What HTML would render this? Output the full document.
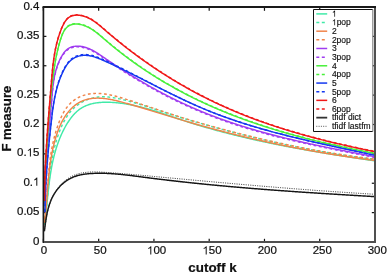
<!DOCTYPE html>
<html><head><meta charset="utf-8"><style>
html,body{margin:0;padding:0;background:#fff;width:388px;height:275px;overflow:hidden}
svg{display:block;will-change:transform}
.t{font-family:"Liberation Sans",sans-serif;font-size:11.5px;fill:#111;stroke:#111;stroke-width:0.22px}
.l{font-family:"Liberation Sans",sans-serif;font-size:8.5px;fill:#111;stroke:#111;stroke-width:0.15px}
.b{font-family:"Liberation Sans",sans-serif;font-size:13.4px;font-weight:bold;fill:#111;stroke:#111;stroke-width:0.2px}
</style></head><body>
<svg width="388" height="275" viewBox="0 0 388 275">
<rect width="388" height="275" fill="#fff"/>
<g stroke="#111" stroke-width="1.2">
<line x1="43.40" y1="242.0" x2="43.40" y2="238.8"/>
<line x1="43.40" y1="7.0" x2="43.40" y2="10.8"/>
<line x1="98.67" y1="242.0" x2="98.67" y2="238.8"/>
<line x1="98.67" y1="7.0" x2="98.67" y2="10.8"/>
<line x1="153.93" y1="242.0" x2="153.93" y2="238.8"/>
<line x1="153.93" y1="7.0" x2="153.93" y2="10.8"/>
<line x1="209.20" y1="242.0" x2="209.20" y2="238.8"/>
<line x1="209.20" y1="7.0" x2="209.20" y2="10.8"/>
<line x1="264.47" y1="242.0" x2="264.47" y2="238.8"/>
<line x1="264.47" y1="7.0" x2="264.47" y2="10.8"/>
<line x1="319.73" y1="242.0" x2="319.73" y2="238.8"/>
<line x1="319.73" y1="7.0" x2="319.73" y2="10.8"/>
<line x1="375.00" y1="242.0" x2="375.00" y2="238.8"/>
<line x1="375.00" y1="7.0" x2="375.00" y2="10.8"/>
<line x1="43.4" y1="242.00" x2="46.4" y2="242.00"/>
<line x1="375.0" y1="242.00" x2="371.8" y2="242.00"/>
<line x1="43.4" y1="212.62" x2="46.4" y2="212.62"/>
<line x1="375.0" y1="212.62" x2="371.8" y2="212.62"/>
<line x1="43.4" y1="183.25" x2="46.4" y2="183.25"/>
<line x1="375.0" y1="183.25" x2="371.8" y2="183.25"/>
<line x1="43.4" y1="153.88" x2="46.4" y2="153.88"/>
<line x1="375.0" y1="153.88" x2="371.8" y2="153.88"/>
<line x1="43.4" y1="124.50" x2="46.4" y2="124.50"/>
<line x1="375.0" y1="124.50" x2="371.8" y2="124.50"/>
<line x1="43.4" y1="95.12" x2="46.4" y2="95.12"/>
<line x1="375.0" y1="95.12" x2="371.8" y2="95.12"/>
<line x1="43.4" y1="65.75" x2="46.4" y2="65.75"/>
<line x1="375.0" y1="65.75" x2="371.8" y2="65.75"/>
<line x1="43.4" y1="36.37" x2="46.4" y2="36.37"/>
<line x1="375.0" y1="36.37" x2="371.8" y2="36.37"/>
<line x1="43.4" y1="7.00" x2="46.4" y2="7.00"/>
<line x1="375.0" y1="7.00" x2="371.8" y2="7.00"/>
</g>
<g clip-path="url(#c)">
<path d="M44.55,224.57 L44.67,223.71 L44.78,222.84 L44.90,221.98 L45.01,221.12 L45.12,220.26 L45.22,219.40 L45.33,218.54 L45.43,217.69 L45.54,216.83 L45.64,215.97 L45.73,215.11 L45.83,214.25 L45.93,213.40 L46.02,212.54 L46.12,211.68 L46.21,210.83 L46.30,209.97 L46.39,209.12 L46.48,208.26 L46.57,207.41 L46.66,206.55 L46.75,205.70 L46.84,204.84 L46.92,203.99 L47.01,203.14 L47.10,202.29 L47.18,201.44 L47.27,200.58 L47.36,199.73 L47.44,198.88 L47.53,198.03 L47.62,197.18 L47.71,196.33 L47.79,195.48 L47.88,194.64 L47.97,193.79 L48.06,192.94 L48.15,192.09 L48.25,191.24 L48.34,190.40 L48.43,189.55 L48.53,188.71 L48.62,187.86 L48.72,187.02 L48.82,186.17 L48.92,185.33 L49.02,184.48 L49.13,183.64 L49.23,182.80 L49.34,181.96 L49.45,181.11 L49.56,180.27 L49.67,179.43 L49.79,178.59 L49.91,177.75 L50.03,176.91 L50.15,176.07 L50.28,175.23 L50.40,174.40 L50.53,173.56 L50.67,172.72 L50.80,171.88 L50.94,171.05 L51.08,170.21 L51.23,169.38 L51.38,168.54 L51.53,167.71 L51.68,166.87 L51.84,166.04 L52.00,165.20 L52.17,164.37 L52.34,163.54 L52.51,162.71 L52.69,161.88 L52.87,161.04 L53.06,160.21 L53.25,159.38 L53.44,158.56 L53.64,157.73 L53.84,156.90 L54.05,156.07 L54.26,155.24 L54.47,154.41 L54.69,153.59 L54.92,152.76 L55.15,151.94 L55.38,151.11 L55.62,150.29 L55.87,149.46 L56.12,148.64 L56.38,147.82 L56.64,146.99 L56.90,146.17 L57.18,145.35 L57.46,144.53 L57.74,143.71 L58.03,142.90 L58.32,142.08 L58.63,141.27 L58.93,140.46 L59.25,139.65 L59.57,138.84 L59.89,138.03 L60.22,137.23 L60.56,136.42 L60.91,135.62 L61.26,134.82 L61.62,134.03 L61.99,133.24 L62.36,132.45 L62.74,131.66 L63.12,130.88 L63.52,130.09 L63.92,129.32 L64.32,128.54 L64.74,127.77 L65.16,127.00 L65.59,126.24 L66.03,125.48 L66.47,124.72 L66.93,123.97 L67.39,123.22 L67.85,122.48 L68.33,121.75 L68.81,121.02 L69.31,120.29 L69.81,119.58 L70.32,118.87 L70.84,118.17 L71.36,117.48 L71.90,116.81 L72.44,116.14 L73.00,115.48 L73.56,114.84 L74.13,114.21 L74.72,113.59 L75.31,112.99 L75.91,112.40 L76.52,111.82 L77.14,111.26 L77.77,110.72 L78.41,110.20 L79.06,109.69 L79.72,109.20 L80.39,108.73 L81.08,108.28 L81.77,107.85 L82.47,107.44 L83.18,107.04 L83.90,106.67 L84.63,106.31 L85.37,105.97 L86.12,105.65 L86.88,105.34 L87.64,105.06 L88.42,104.78 L89.20,104.53 L89.98,104.29 L90.78,104.06 L91.58,103.85 L92.38,103.66 L93.19,103.48 L94.01,103.31 L94.83,103.16 L95.66,103.02 L96.49,102.89 L97.33,102.77 L98.17,102.67 L99.01,102.58 L99.86,102.50 L100.71,102.43 L101.57,102.37 L102.42,102.33 L103.28,102.29 L104.14,102.26 L105.00,102.24 L105.87,102.24 L106.73,102.23 L107.59,102.24 L108.46,102.26 L109.32,102.28 L110.19,102.31 L111.05,102.35 L111.92,102.40 L112.78,102.45 L113.64,102.50 L114.50,102.57 L115.36,102.64 L116.22,102.71 L117.07,102.79 L117.93,102.88 L118.78,102.97 L119.64,103.06 L120.49,103.17 L121.34,103.27 L122.19,103.39 L123.04,103.50 L123.88,103.63 L124.73,103.75 L125.57,103.89 L126.42,104.02 L127.26,104.17 L128.10,104.31 L128.95,104.46 L129.79,104.62 L130.63,104.78 L131.46,104.94 L132.30,105.11 L133.14,105.29 L133.97,105.46 L134.81,105.64 L135.64,105.83 L136.48,106.02 L137.31,106.21 L138.14,106.41 L138.97,106.61 L139.80,106.81 L140.63,107.01 L141.46,107.22 L142.29,107.44 L143.12,107.65 L143.95,107.87 L144.77,108.09 L145.60,108.32 L146.42,108.55 L147.25,108.78 L148.07,109.01 L148.90,109.25 L149.72,109.48 L150.54,109.72 L151.36,109.97 L152.19,110.21 L153.01,110.46 L153.83,110.71 L154.65,110.96 L155.47,111.21 L156.29,111.47 L157.11,111.73 L157.93,111.98 L158.74,112.24 L159.56,112.51 L160.38,112.77 L161.20,113.03 L162.01,113.30 L162.83,113.56 L163.65,113.83 L164.47,114.10 L165.28,114.37 L166.10,114.64 L166.91,114.91 L167.73,115.18 L168.55,115.46 L169.36,115.73 L170.18,116.00 L170.99,116.28 L171.81,116.55 L172.63,116.82 L173.44,117.10 L174.26,117.37 L175.07,117.65 L175.89,117.92 L176.70,118.19 L177.52,118.47 L178.34,118.74 L179.15,119.01 L179.97,119.28 L180.78,119.56 L181.60,119.83 L182.42,120.10 L183.23,120.36 L184.05,120.63 L184.87,120.90 L185.69,121.16 L186.50,121.43 L187.32,121.69 L188.14,121.95 L188.96,122.21 L189.78,122.47 L190.60,122.73 L191.42,122.99 L192.24,123.25 L193.06,123.50 L193.88,123.76 L194.70,124.01 L195.52,124.26 L196.34,124.51 L197.16,124.76 L197.98,125.01 L198.80,125.26 L199.62,125.51 L200.44,125.75 L201.27,126.00 L202.09,126.24 L202.91,126.49 L203.73,126.73 L204.56,126.97 L205.38,127.21 L206.20,127.45 L207.03,127.68 L207.85,127.92 L208.67,128.16 L209.50,128.39 L210.32,128.62 L211.15,128.86 L211.97,129.09 L212.80,129.32 L213.62,129.55 L214.45,129.78 L215.27,130.01 L216.10,130.23 L216.92,130.46 L217.75,130.68 L218.58,130.91 L219.40,131.13 L220.23,131.35 L221.06,131.57 L221.89,131.79 L222.71,132.01 L223.54,132.23 L224.37,132.45 L225.20,132.66 L226.03,132.88 L226.85,133.09 L227.68,133.31 L228.51,133.52 L229.34,133.73 L230.17,133.94 L231.00,134.15 L231.83,134.36 L232.66,134.57 L233.49,134.78 L234.32,134.98 L235.15,135.19 L235.98,135.40 L236.81,135.60 L237.64,135.80 L238.47,136.00 L239.30,136.21 L240.14,136.41 L240.97,136.61 L241.80,136.81 L242.63,137.00 L243.46,137.20 L244.30,137.40 L245.13,137.59 L245.96,137.79 L246.79,137.98 L247.63,138.18 L248.46,138.37 L249.29,138.56 L250.13,138.75 L250.96,138.94 L251.79,139.13 L252.63,139.32 L253.46,139.51 L254.30,139.69 L255.13,139.88 L255.97,140.07 L256.80,140.25 L257.64,140.44 L258.47,140.62 L259.31,140.80 L260.14,140.98 L260.98,141.16 L261.81,141.34 L262.65,141.52 L263.49,141.70 L264.32,141.88 L265.16,142.06 L265.99,142.24 L266.83,142.41 L267.67,142.59 L268.51,142.76 L269.34,142.94 L270.18,143.11 L271.02,143.28 L271.85,143.46 L272.69,143.63 L273.53,143.80 L274.37,143.97 L275.21,144.14 L276.04,144.31 L276.88,144.48 L277.72,144.64 L278.56,144.81 L279.40,144.98 L280.24,145.14 L281.08,145.31 L281.92,145.47 L282.76,145.64 L283.59,145.80 L284.43,145.96 L285.27,146.12 L286.11,146.28 L286.95,146.45 L287.79,146.61 L288.63,146.77 L289.47,146.93 L290.31,147.08 L291.15,147.24 L292.00,147.40 L292.84,147.56 L293.68,147.71 L294.52,147.87 L295.36,148.02 L296.20,148.18 L297.04,148.33 L297.88,148.49 L298.72,148.64 L299.57,148.79 L300.41,148.94 L301.25,149.10 L302.09,149.25 L302.93,149.40 L303.78,149.55 L304.62,149.70 L305.46,149.85 L306.30,150.00 L307.15,150.14 L307.99,150.29 L308.83,150.44 L309.67,150.59 L310.52,150.73 L311.36,150.88 L312.20,151.02 L313.05,151.17 L313.89,151.31 L314.73,151.46 L315.58,151.60 L316.42,151.74 L317.26,151.89 L318.11,152.03 L318.95,152.17 L319.80,152.31 L320.64,152.45 L321.48,152.59 L322.33,152.73 L323.17,152.87 L324.02,153.01 L324.86,153.15 L325.71,153.29 L326.55,153.43 L327.39,153.57 L328.24,153.70 L329.08,153.84 L329.93,153.98 L330.77,154.12 L331.62,154.25 L332.46,154.39 L333.31,154.52 L334.15,154.66 L335.00,154.79 L335.85,154.93 L336.69,155.06 L337.54,155.20 L338.38,155.33 L339.23,155.46 L340.07,155.60 L340.92,155.73 L341.76,155.86 L342.61,155.99 L343.46,156.12 L344.30,156.26 L345.15,156.39 L345.99,156.52 L346.84,156.65 L347.69,156.78 L348.53,156.91 L349.38,157.04 L350.23,157.17 L351.07,157.30 L351.92,157.43 L352.76,157.56 L353.61,157.68 L354.46,157.81 L355.30,157.94 L356.15,158.07 L357.00,158.20 L357.84,158.32 L358.69,158.45 L359.54,158.58 L360.39,158.71 L361.23,158.83 L362.08,158.96 L362.93,159.09 L363.77,159.21 L364.62,159.34 L365.47,159.46 L366.31,159.59 L367.16,159.72 L368.01,159.84 L368.86,159.97 L369.70,160.09 L370.55,160.22 L371.40,160.34 L372.24,160.47 L373.09,160.59 L373.94,160.71 L374.79,160.84" fill="none" stroke="#40eaa8" stroke-width="1.45" stroke-linejoin="round"/>
<path d="M44.28,223.92 L44.42,223.07 L44.56,222.22 L44.69,221.37 L44.82,220.52 L44.95,219.67 L45.07,218.82 L45.19,217.97 L45.31,217.11 L45.42,216.26 L45.54,215.40 L45.65,214.55 L45.76,213.69 L45.86,212.84 L45.97,211.98 L46.07,211.12 L46.17,210.26 L46.27,209.40 L46.37,208.54 L46.46,207.68 L46.55,206.82 L46.65,205.96 L46.74,205.10 L46.83,204.24 L46.92,203.38 L47.00,202.52 L47.09,201.65 L47.18,200.79 L47.26,199.93 L47.35,199.07 L47.43,198.20 L47.51,197.34 L47.59,196.47 L47.68,195.61 L47.76,194.74 L47.84,193.88 L47.92,193.02 L48.00,192.15 L48.09,191.29 L48.17,190.42 L48.25,189.55 L48.33,188.69 L48.42,187.82 L48.50,186.96 L48.58,186.09 L48.67,185.23 L48.76,184.36 L48.84,183.50 L48.93,182.63 L49.02,181.77 L49.11,180.90 L49.20,180.04 L49.29,179.17 L49.39,178.31 L49.48,177.44 L49.58,176.58 L49.68,175.71 L49.78,174.85 L49.88,173.99 L49.99,173.12 L50.10,172.26 L50.20,171.40 L50.32,170.54 L50.43,169.67 L50.55,168.81 L50.66,167.95 L50.79,167.09 L50.91,166.23 L51.04,165.37 L51.17,164.51 L51.30,163.65 L51.43,162.79 L51.57,161.93 L51.72,161.08 L51.86,160.22 L52.01,159.36 L52.16,158.51 L52.32,157.65 L52.48,156.80 L52.64,155.94 L52.81,155.09 L52.98,154.24 L53.16,153.38 L53.34,152.53 L53.52,151.68 L53.71,150.83 L53.90,149.98 L54.10,149.13 L54.30,148.29 L54.51,147.44 L54.72,146.59 L54.94,145.75 L55.16,144.90 L55.39,144.06 L55.62,143.22 L55.85,142.38 L56.10,141.54 L56.34,140.70 L56.60,139.86 L56.86,139.02 L57.12,138.18 L57.39,137.35 L57.67,136.52 L57.95,135.68 L58.24,134.85 L58.53,134.02 L58.83,133.19 L59.14,132.36 L59.45,131.53 L59.77,130.71 L60.10,129.88 L60.43,129.06 L60.77,128.24 L61.12,127.42 L61.48,126.61 L61.84,125.80 L62.21,125.00 L62.59,124.20 L62.98,123.40 L63.37,122.61 L63.78,121.83 L64.19,121.05 L64.61,120.28 L65.04,119.52 L65.49,118.76 L65.94,118.01 L66.40,117.27 L66.87,116.54 L67.35,115.82 L67.84,115.11 L68.34,114.41 L68.85,113.72 L69.37,113.04 L69.91,112.37 L70.45,111.71 L71.01,111.07 L71.58,110.43 L72.16,109.81 L72.75,109.21 L73.35,108.61 L73.96,108.03 L74.59,107.47 L75.22,106.91 L75.86,106.37 L76.52,105.85 L77.18,105.33 L77.85,104.83 L78.54,104.35 L79.23,103.88 L79.93,103.42 L80.64,102.97 L81.35,102.55 L82.08,102.13 L82.81,101.73 L83.55,101.35 L84.30,100.98 L85.05,100.62 L85.82,100.28 L86.59,99.96 L87.36,99.65 L88.14,99.35 L88.93,99.07 L89.73,98.81 L90.53,98.56 L91.33,98.33 L92.14,98.12 L92.96,97.92 L93.78,97.74 L94.60,97.57 L95.43,97.42 L96.27,97.29 L97.10,97.17 L97.95,97.07 L98.79,96.99 L99.64,96.92 L100.49,96.87 L101.34,96.84 L102.20,96.81 L103.06,96.81 L103.92,96.82 L104.79,96.84 L105.65,96.88 L106.52,96.92 L107.39,96.98 L108.26,97.06 L109.14,97.14 L110.01,97.24 L110.89,97.34 L111.76,97.46 L112.64,97.59 L113.52,97.72 L114.40,97.87 L115.28,98.02 L116.15,98.18 L117.03,98.35 L117.91,98.52 L118.79,98.71 L119.67,98.90 L120.55,99.09 L121.42,99.29 L122.30,99.50 L123.17,99.71 L124.05,99.92 L124.92,100.14 L125.79,100.36 L126.65,100.59 L127.52,100.82 L128.38,101.04 L129.24,101.28 L130.10,101.51 L130.96,101.75 L131.82,101.98 L132.67,102.22 L133.52,102.46 L134.37,102.71 L135.22,102.95 L136.07,103.20 L136.91,103.45 L137.76,103.70 L138.60,103.95 L139.44,104.20 L140.28,104.45 L141.12,104.71 L141.95,104.97 L142.79,105.23 L143.62,105.48 L144.46,105.74 L145.29,106.01 L146.12,106.27 L146.95,106.53 L147.78,106.80 L148.60,107.06 L149.43,107.33 L150.26,107.59 L151.08,107.86 L151.91,108.13 L152.73,108.40 L153.55,108.66 L154.38,108.93 L155.20,109.20 L156.02,109.47 L156.84,109.74 L157.66,110.01 L158.48,110.28 L159.30,110.55 L160.12,110.82 L160.94,111.09 L161.76,111.36 L162.58,111.63 L163.40,111.90 L164.22,112.17 L165.04,112.44 L165.86,112.71 L166.68,112.98 L167.50,113.25 L168.32,113.52 L169.14,113.78 L169.97,114.05 L170.79,114.31 L171.61,114.58 L172.43,114.84 L173.25,115.10 L174.08,115.37 L174.90,115.63 L175.73,115.89 L176.55,116.15 L177.37,116.41 L178.20,116.67 L179.03,116.92 L179.85,117.18 L180.68,117.44 L181.50,117.69 L182.33,117.95 L183.16,118.20 L183.99,118.46 L184.81,118.71 L185.64,118.96 L186.47,119.21 L187.30,119.46 L188.13,119.71 L188.96,119.96 L189.79,120.21 L190.62,120.46 L191.45,120.71 L192.28,120.95 L193.11,121.20 L193.95,121.45 L194.78,121.69 L195.61,121.93 L196.44,122.18 L197.28,122.42 L198.11,122.66 L198.94,122.90 L199.78,123.14 L200.61,123.38 L201.44,123.62 L202.28,123.86 L203.11,124.10 L203.95,124.34 L204.78,124.58 L205.62,124.81 L206.45,125.05 L207.29,125.28 L208.12,125.52 L208.96,125.75 L209.80,125.99 L210.63,126.22 L211.47,126.45 L212.31,126.68 L213.14,126.91 L213.98,127.15 L214.82,127.38 L215.66,127.60 L216.49,127.83 L217.33,128.06 L218.17,128.29 L219.01,128.52 L219.85,128.74 L220.69,128.97 L221.53,129.20 L222.36,129.42 L223.20,129.65 L224.04,129.87 L224.88,130.09 L225.72,130.32 L226.56,130.54 L227.40,130.76 L228.24,130.98 L229.08,131.20 L229.92,131.42 L230.76,131.64 L231.60,131.86 L232.44,132.08 L233.28,132.30 L234.12,132.51 L234.97,132.73 L235.81,132.95 L236.65,133.16 L237.49,133.38 L238.33,133.59 L239.17,133.80 L240.02,134.02 L240.86,134.23 L241.70,134.44 L242.54,134.65 L243.38,134.86 L244.23,135.07 L245.07,135.28 L245.91,135.49 L246.76,135.70 L247.60,135.91 L248.44,136.12 L249.29,136.32 L250.13,136.53 L250.97,136.73 L251.82,136.94 L252.66,137.14 L253.51,137.35 L254.35,137.55 L255.20,137.75 L256.04,137.95 L256.88,138.16 L257.73,138.36 L258.58,138.56 L259.42,138.76 L260.27,138.95 L261.11,139.15 L261.96,139.35 L262.80,139.55 L263.65,139.74 L264.50,139.94 L265.34,140.13 L266.19,140.33 L267.03,140.52 L267.88,140.72 L268.73,140.91 L269.57,141.10 L270.42,141.29 L271.27,141.48 L272.12,141.67 L272.96,141.86 L273.81,142.05 L274.66,142.24 L275.51,142.42 L276.36,142.61 L277.20,142.80 L278.05,142.98 L278.90,143.17 L279.75,143.35 L280.60,143.53 L281.45,143.72 L282.30,143.90 L283.15,144.08 L284.00,144.26 L284.85,144.44 L285.70,144.62 L286.54,144.80 L287.39,144.98 L288.25,145.16 L289.10,145.33 L289.95,145.51 L290.80,145.68 L291.65,145.86 L292.50,146.03 L293.35,146.21 L294.20,146.38 L295.05,146.55 L295.90,146.72 L296.75,146.89 L297.61,147.06 L298.46,147.23 L299.31,147.40 L300.16,147.57 L301.01,147.74 L301.87,147.90 L302.72,148.07 L303.57,148.23 L304.42,148.40 L305.28,148.56 L306.13,148.72 L306.98,148.89 L307.84,149.05 L308.69,149.21 L309.54,149.37 L310.40,149.53 L311.25,149.69 L312.11,149.85 L312.96,150.00 L313.81,150.16 L314.67,150.32 L315.52,150.47 L316.38,150.62 L317.23,150.78 L318.09,150.93 L318.94,151.08 L319.80,151.24 L320.65,151.39 L321.51,151.54 L322.37,151.69 L323.22,151.83 L324.08,151.98 L324.93,152.13 L325.79,152.28 L326.65,152.42 L327.50,152.57 L328.36,152.71 L329.22,152.85 L330.07,153.00 L330.93,153.14 L331.79,153.28 L332.64,153.42 L333.50,153.56 L334.36,153.70 L335.22,153.84 L336.08,153.97 L336.93,154.11 L337.79,154.25 L338.65,154.38 L339.51,154.52 L340.37,154.65 L341.23,154.78 L342.08,154.91 L342.94,155.05 L343.80,155.18 L344.66,155.31 L345.52,155.44 L346.38,155.56 L347.24,155.69 L348.10,155.82 L348.96,155.94 L349.82,156.07 L350.68,156.19 L351.54,156.32 L352.40,156.44 L353.26,156.56 L354.12,156.68 L354.98,156.80 L355.85,156.92 L356.71,157.04 L357.57,157.16 L358.43,157.28 L359.29,157.39 L360.15,157.51 L361.01,157.62 L361.88,157.74 L362.74,157.85 L363.60,157.96 L364.46,158.07 L365.33,158.18 L366.19,158.29 L367.05,158.40 L367.91,158.51 L368.78,158.62 L369.64,158.73 L370.50,158.83 L371.37,158.94 L372.23,159.04 L373.09,159.14 L373.96,159.25 L374.82,159.35" fill="none" stroke="#40eaa8" stroke-width="1.45" stroke-dasharray="2.8 2.6" stroke-dashoffset="-1.442" stroke-linejoin="round"/>
<path d="M44.47,223.05 L44.58,222.17 L44.68,221.30 L44.78,220.43 L44.88,219.56 L44.98,218.69 L45.08,217.82 L45.17,216.95 L45.26,216.08 L45.35,215.21 L45.44,214.34 L45.52,213.47 L45.61,212.60 L45.69,211.73 L45.77,210.86 L45.85,210.00 L45.93,209.13 L46.01,208.26 L46.08,207.39 L46.16,206.52 L46.23,205.66 L46.31,204.79 L46.38,203.92 L46.45,203.05 L46.52,202.19 L46.59,201.32 L46.66,200.46 L46.73,199.59 L46.80,198.72 L46.87,197.86 L46.93,196.99 L47.00,196.13 L47.07,195.26 L47.14,194.40 L47.21,193.54 L47.28,192.67 L47.34,191.81 L47.41,190.94 L47.48,190.08 L47.55,189.22 L47.62,188.35 L47.69,187.49 L47.77,186.63 L47.84,185.77 L47.91,184.91 L47.99,184.04 L48.06,183.18 L48.14,182.32 L48.22,181.46 L48.30,180.60 L48.38,179.74 L48.46,178.88 L48.54,178.02 L48.63,177.16 L48.71,176.30 L48.80,175.44 L48.89,174.58 L48.98,173.73 L49.08,172.87 L49.17,172.01 L49.27,171.15 L49.37,170.29 L49.48,169.44 L49.58,168.58 L49.69,167.72 L49.80,166.87 L49.91,166.01 L50.03,165.15 L50.15,164.30 L50.27,163.44 L50.39,162.59 L50.52,161.73 L50.65,160.88 L50.78,160.03 L50.92,159.17 L51.06,158.32 L51.20,157.46 L51.35,156.61 L51.50,155.76 L51.66,154.91 L51.81,154.05 L51.98,153.20 L52.14,152.35 L52.31,151.50 L52.48,150.65 L52.66,149.80 L52.84,148.95 L53.03,148.09 L53.22,147.24 L53.42,146.40 L53.61,145.55 L53.82,144.70 L54.03,143.85 L54.24,143.00 L54.46,142.15 L54.68,141.30 L54.91,140.46 L55.14,139.61 L55.38,138.76 L55.63,137.92 L55.88,137.08 L56.14,136.23 L56.40,135.39 L56.67,134.56 L56.94,133.72 L57.23,132.89 L57.52,132.06 L57.81,131.23 L58.12,130.41 L58.43,129.59 L58.75,128.77 L59.08,127.96 L59.41,127.15 L59.76,126.34 L60.11,125.54 L60.47,124.75 L60.84,123.96 L61.22,123.18 L61.61,122.40 L62.01,121.62 L62.41,120.85 L62.83,120.09 L63.26,119.34 L63.70,118.59 L64.15,117.85 L64.61,117.11 L65.08,116.38 L65.56,115.66 L66.05,114.95 L66.56,114.25 L67.07,113.55 L67.60,112.86 L68.14,112.18 L68.69,111.51 L69.25,110.85 L69.83,110.20 L70.42,109.56 L71.02,108.93 L71.63,108.31 L72.26,107.71 L72.89,107.11 L73.54,106.54 L74.20,105.98 L74.87,105.43 L75.55,104.91 L76.25,104.40 L76.95,103.91 L77.67,103.44 L78.39,102.99 L79.13,102.56 L79.87,102.16 L80.63,101.77 L81.39,101.41 L82.16,101.06 L82.93,100.74 L83.71,100.44 L84.49,100.16 L85.28,99.90 L86.07,99.66 L86.87,99.43 L87.68,99.23 L88.48,99.05 L89.29,98.88 L90.11,98.73 L90.93,98.60 L91.75,98.49 L92.58,98.39 L93.41,98.31 L94.25,98.24 L95.08,98.19 L95.92,98.16 L96.77,98.14 L97.62,98.13 L98.46,98.14 L99.32,98.16 L100.17,98.19 L101.03,98.24 L101.89,98.30 L102.75,98.37 L103.61,98.45 L104.48,98.54 L105.35,98.65 L106.22,98.76 L107.09,98.88 L107.96,99.02 L108.83,99.16 L109.71,99.31 L110.58,99.47 L111.46,99.64 L112.33,99.81 L113.21,100.00 L114.09,100.19 L114.96,100.38 L115.84,100.58 L116.72,100.79 L117.60,101.00 L118.47,101.22 L119.35,101.44 L120.23,101.67 L121.10,101.90 L121.98,102.13 L122.85,102.36 L123.72,102.60 L124.60,102.84 L125.47,103.08 L126.33,103.33 L127.20,103.57 L128.07,103.81 L128.93,104.06 L129.79,104.30 L130.65,104.55 L131.51,104.80 L132.37,105.04 L133.23,105.29 L134.08,105.54 L134.93,105.79 L135.78,106.04 L136.63,106.29 L137.48,106.54 L138.33,106.79 L139.18,107.04 L140.02,107.29 L140.86,107.54 L141.71,107.79 L142.55,108.04 L143.39,108.29 L144.23,108.54 L145.06,108.80 L145.90,109.05 L146.73,109.30 L147.57,109.56 L148.40,109.81 L149.24,110.06 L150.07,110.32 L150.90,110.57 L151.73,110.82 L152.56,111.08 L153.39,111.33 L154.21,111.58 L155.04,111.84 L155.87,112.09 L156.69,112.35 L157.52,112.60 L158.34,112.85 L159.17,113.11 L159.99,113.36 L160.81,113.62 L161.63,113.87 L162.46,114.12 L163.28,114.38 L164.10,114.63 L164.92,114.88 L165.74,115.14 L166.56,115.39 L167.38,115.64 L168.20,115.89 L169.02,116.14 L169.84,116.40 L170.66,116.65 L171.48,116.90 L172.30,117.15 L173.12,117.40 L173.94,117.65 L174.75,117.90 L175.57,118.15 L176.39,118.40 L177.21,118.65 L178.03,118.90 L178.85,119.14 L179.67,119.39 L180.49,119.64 L181.31,119.89 L182.13,120.13 L182.96,120.38 L183.78,120.62 L184.60,120.87 L185.42,121.11 L186.24,121.35 L187.07,121.59 L187.89,121.84 L188.72,122.08 L189.54,122.32 L190.37,122.56 L191.19,122.80 L192.02,123.04 L192.84,123.28 L193.67,123.51 L194.50,123.75 L195.33,123.99 L196.15,124.22 L196.98,124.46 L197.81,124.70 L198.64,124.93 L199.47,125.16 L200.30,125.40 L201.13,125.63 L201.96,125.86 L202.79,126.09 L203.62,126.32 L204.46,126.55 L205.29,126.78 L206.12,127.01 L206.96,127.24 L207.79,127.47 L208.62,127.70 L209.46,127.92 L210.29,128.15 L211.13,128.38 L211.96,128.60 L212.80,128.83 L213.63,129.05 L214.47,129.27 L215.31,129.50 L216.14,129.72 L216.98,129.94 L217.82,130.16 L218.66,130.38 L219.50,130.60 L220.33,130.82 L221.17,131.04 L222.01,131.26 L222.85,131.47 L223.69,131.69 L224.53,131.91 L225.37,132.12 L226.21,132.34 L227.06,132.55 L227.90,132.77 L228.74,132.98 L229.58,133.19 L230.42,133.40 L231.27,133.61 L232.11,133.83 L232.95,134.04 L233.80,134.25 L234.64,134.45 L235.48,134.66 L236.33,134.87 L237.17,135.08 L238.02,135.29 L238.86,135.49 L239.71,135.70 L240.56,135.90 L241.40,136.11 L242.25,136.31 L243.09,136.51 L243.94,136.72 L244.79,136.92 L245.64,137.12 L246.48,137.32 L247.33,137.52 L248.18,137.72 L249.03,137.92 L249.88,138.12 L250.72,138.31 L251.57,138.51 L252.42,138.71 L253.27,138.90 L254.12,139.10 L254.97,139.29 L255.82,139.49 L256.67,139.68 L257.52,139.87 L258.37,140.07 L259.22,140.26 L260.07,140.45 L260.92,140.64 L261.78,140.83 L262.63,141.02 L263.48,141.21 L264.33,141.39 L265.18,141.58 L266.04,141.77 L266.89,141.96 L267.74,142.14 L268.59,142.33 L269.45,142.51 L270.30,142.69 L271.15,142.88 L272.01,143.06 L272.86,143.24 L273.71,143.42 L274.57,143.60 L275.42,143.78 L276.28,143.96 L277.13,144.14 L277.99,144.32 L278.84,144.50 L279.69,144.67 L280.55,144.85 L281.40,145.03 L282.26,145.20 L283.12,145.38 L283.97,145.55 L284.83,145.72 L285.68,145.90 L286.54,146.07 L287.39,146.24 L288.25,146.41 L289.10,146.58 L289.96,146.75 L290.82,146.92 L291.67,147.09 L292.53,147.26 L293.39,147.42 L294.24,147.59 L295.10,147.76 L295.96,147.92 L296.81,148.09 L297.67,148.25 L298.53,148.41 L299.38,148.58 L300.24,148.74 L301.10,148.90 L301.96,149.06 L302.81,149.22 L303.67,149.38 L304.53,149.54 L305.38,149.70 L306.24,149.86 L307.10,150.01 L307.96,150.17 L308.81,150.33 L309.67,150.48 L310.53,150.64 L311.39,150.79 L312.25,150.94 L313.10,151.10 L313.96,151.25 L314.82,151.40 L315.68,151.55 L316.53,151.70 L317.39,151.85 L318.25,152.00 L319.11,152.15 L319.97,152.30 L320.82,152.44 L321.68,152.59 L322.54,152.74 L323.40,152.88 L324.25,153.03 L325.11,153.17 L325.97,153.31 L326.83,153.46 L327.68,153.60 L328.54,153.74 L329.40,153.88 L330.26,154.02 L331.11,154.16 L331.97,154.30 L332.83,154.44 L333.69,154.57 L334.54,154.71 L335.40,154.85 L336.26,154.98 L337.12,155.12 L337.97,155.25 L338.83,155.39 L339.69,155.52 L340.54,155.65 L341.40,155.79 L342.26,155.92 L343.11,156.05 L343.97,156.18 L344.83,156.31 L345.68,156.44 L346.54,156.56 L347.40,156.69 L348.25,156.82 L349.11,156.94 L349.97,157.07 L350.82,157.19 L351.68,157.32 L352.53,157.44 L353.39,157.57 L354.24,157.69 L355.10,157.81 L355.95,157.93 L356.81,158.05 L357.66,158.17 L358.52,158.29 L359.37,158.41 L360.23,158.53 L361.08,158.64 L361.94,158.76 L362.79,158.88 L363.65,158.99 L364.50,159.11 L365.35,159.22 L366.21,159.33 L367.06,159.45 L367.91,159.56 L368.77,159.67 L369.62,159.78 L370.47,159.89 L371.33,160.00 L372.18,160.11 L373.03,160.22 L373.88,160.32 L374.73,160.43" fill="none" stroke="#f0844a" stroke-width="1.45" stroke-linejoin="round"/>
<path d="M44.27,222.43 L44.39,221.57 L44.50,220.70 L44.61,219.84 L44.72,218.97 L44.82,218.10 L44.93,217.23 L45.03,216.37 L45.12,215.50 L45.22,214.63 L45.31,213.76 L45.40,212.89 L45.49,212.02 L45.58,211.14 L45.66,210.27 L45.74,209.40 L45.82,208.53 L45.90,207.65 L45.98,206.78 L46.06,205.91 L46.13,205.03 L46.20,204.16 L46.28,203.28 L46.35,202.41 L46.42,201.53 L46.49,200.65 L46.55,199.78 L46.62,198.90 L46.69,198.02 L46.75,197.15 L46.82,196.27 L46.88,195.39 L46.95,194.51 L47.01,193.63 L47.07,192.76 L47.14,191.88 L47.20,191.00 L47.26,190.12 L47.32,189.24 L47.39,188.36 L47.45,187.48 L47.52,186.60 L47.58,185.73 L47.64,184.85 L47.71,183.97 L47.78,183.09 L47.84,182.21 L47.91,181.33 L47.98,180.45 L48.05,179.57 L48.12,178.69 L48.19,177.81 L48.26,176.94 L48.34,176.06 L48.41,175.18 L48.49,174.30 L48.57,173.42 L48.65,172.54 L48.73,171.67 L48.81,170.79 L48.90,169.91 L48.99,169.04 L49.08,168.16 L49.17,167.28 L49.26,166.41 L49.36,165.53 L49.46,164.65 L49.56,163.78 L49.66,162.90 L49.77,162.03 L49.88,161.16 L49.99,160.28 L50.11,159.41 L50.23,158.54 L50.35,157.66 L50.47,156.79 L50.60,155.92 L50.73,155.05 L50.86,154.18 L51.00,153.31 L51.14,152.44 L51.29,151.57 L51.44,150.70 L51.59,149.83 L51.74,148.97 L51.91,148.10 L52.07,147.23 L52.24,146.37 L52.41,145.50 L52.59,144.64 L52.77,143.78 L52.96,142.92 L53.15,142.05 L53.34,141.19 L53.54,140.33 L53.75,139.47 L53.96,138.61 L54.17,137.76 L54.39,136.90 L54.62,136.04 L54.85,135.19 L55.08,134.33 L55.32,133.48 L55.57,132.63 L55.82,131.77 L56.08,130.92 L56.34,130.07 L56.61,129.22 L56.89,128.37 L57.17,127.53 L57.46,126.68 L57.75,125.84 L58.05,124.99 L58.36,124.15 L58.67,123.31 L58.99,122.47 L59.31,121.63 L59.65,120.79 L59.99,119.96 L60.34,119.13 L60.69,118.31 L61.06,117.49 L61.43,116.68 L61.82,115.87 L62.21,115.07 L62.62,114.28 L63.03,113.49 L63.45,112.72 L63.89,111.95 L64.33,111.19 L64.79,110.44 L65.26,109.71 L65.74,108.98 L66.23,108.27 L66.74,107.57 L67.25,106.88 L67.79,106.21 L68.33,105.55 L68.89,104.90 L69.46,104.27 L70.05,103.66 L70.65,103.06 L71.27,102.48 L71.90,101.92 L72.55,101.37 L73.21,100.85 L73.89,100.34 L74.58,99.84 L75.28,99.37 L75.99,98.91 L76.72,98.48 L77.45,98.06 L78.20,97.65 L78.96,97.27 L79.73,96.90 L80.50,96.55 L81.29,96.22 L82.08,95.91 L82.88,95.62 L83.69,95.34 L84.51,95.09 L85.33,94.85 L86.16,94.63 L86.99,94.43 L87.83,94.24 L88.67,94.08 L89.52,93.93 L90.37,93.80 L91.22,93.69 L92.08,93.60 L92.94,93.53 L93.80,93.47 L94.66,93.43 L95.53,93.40 L96.40,93.39 L97.27,93.40 L98.14,93.42 L99.02,93.46 L99.90,93.50 L100.78,93.57 L101.66,93.64 L102.54,93.73 L103.42,93.83 L104.31,93.95 L105.19,94.07 L106.08,94.20 L106.96,94.35 L107.85,94.51 L108.74,94.67 L109.63,94.85 L110.52,95.03 L111.41,95.22 L112.29,95.42 L113.18,95.63 L114.07,95.85 L114.96,96.07 L115.85,96.30 L116.73,96.53 L117.62,96.77 L118.50,97.02 L119.39,97.27 L120.27,97.52 L121.15,97.78 L122.03,98.04 L122.91,98.30 L123.78,98.57 L124.66,98.84 L125.53,99.11 L126.40,99.38 L127.27,99.65 L128.13,99.92 L128.99,100.20 L129.85,100.47 L130.71,100.74 L131.57,101.02 L132.42,101.29 L133.27,101.57 L134.12,101.84 L134.97,102.12 L135.82,102.39 L136.66,102.67 L137.50,102.95 L138.34,103.22 L139.18,103.50 L140.02,103.78 L140.85,104.05 L141.69,104.33 L142.52,104.61 L143.35,104.88 L144.19,105.16 L145.01,105.44 L145.84,105.72 L146.67,105.99 L147.50,106.27 L148.32,106.55 L149.15,106.82 L149.97,107.10 L150.80,107.38 L151.62,107.66 L152.44,107.93 L153.26,108.21 L154.08,108.48 L154.90,108.76 L155.72,109.04 L156.54,109.31 L157.37,109.59 L158.19,109.86 L159.01,110.14 L159.83,110.41 L160.65,110.68 L161.47,110.96 L162.29,111.23 L163.11,111.50 L163.93,111.78 L164.75,112.05 L165.57,112.32 L166.39,112.59 L167.22,112.86 L168.04,113.13 L168.87,113.40 L169.69,113.67 L170.52,113.93 L171.34,114.20 L172.17,114.47 L173.00,114.73 L173.83,115.00 L174.66,115.26 L175.49,115.53 L176.32,115.79 L177.16,116.05 L177.99,116.32 L178.83,116.58 L179.66,116.84 L180.50,117.10 L181.33,117.36 L182.17,117.62 L183.01,117.88 L183.85,118.13 L184.69,118.39 L185.53,118.65 L186.37,118.90 L187.21,119.16 L188.05,119.41 L188.89,119.67 L189.74,119.92 L190.58,120.17 L191.42,120.43 L192.27,120.68 L193.11,120.93 L193.96,121.18 L194.81,121.43 L195.65,121.68 L196.50,121.93 L197.35,122.17 L198.20,122.42 L199.04,122.67 L199.89,122.91 L200.74,123.16 L201.59,123.40 L202.44,123.65 L203.29,123.89 L204.14,124.13 L204.99,124.38 L205.84,124.62 L206.69,124.86 L207.54,125.10 L208.40,125.34 L209.25,125.58 L210.10,125.82 L210.95,126.05 L211.81,126.29 L212.66,126.53 L213.51,126.76 L214.36,127.00 L215.22,127.23 L216.07,127.47 L216.92,127.70 L217.78,127.94 L218.63,128.17 L219.48,128.40 L220.34,128.63 L221.19,128.86 L222.04,129.09 L222.90,129.32 L223.75,129.55 L224.60,129.78 L225.46,130.00 L226.31,130.23 L227.16,130.46 L228.02,130.68 L228.87,130.91 L229.73,131.13 L230.58,131.35 L231.43,131.58 L232.29,131.80 L233.14,132.02 L234.00,132.24 L234.85,132.46 L235.70,132.68 L236.56,132.90 L237.41,133.12 L238.27,133.34 L239.12,133.56 L239.97,133.77 L240.83,133.99 L241.68,134.20 L242.54,134.42 L243.39,134.63 L244.25,134.85 L245.10,135.06 L245.96,135.27 L246.81,135.48 L247.67,135.69 L248.52,135.90 L249.38,136.11 L250.23,136.32 L251.09,136.53 L251.94,136.74 L252.80,136.94 L253.65,137.15 L254.51,137.35 L255.36,137.56 L256.22,137.76 L257.08,137.97 L257.93,138.17 L258.79,138.37 L259.64,138.57 L260.50,138.78 L261.36,138.98 L262.21,139.18 L263.07,139.37 L263.93,139.57 L264.78,139.77 L265.64,139.97 L266.50,140.16 L267.35,140.36 L268.21,140.55 L269.07,140.75 L269.92,140.94 L270.78,141.13 L271.64,141.33 L272.50,141.52 L273.35,141.71 L274.21,141.90 L275.07,142.09 L275.93,142.28 L276.79,142.47 L277.65,142.65 L278.50,142.84 L279.36,143.03 L280.22,143.21 L281.08,143.40 L281.94,143.58 L282.80,143.76 L283.66,143.95 L284.52,144.13 L285.37,144.31 L286.23,144.49 L287.09,144.67 L287.95,144.85 L288.81,145.03 L289.67,145.21 L290.53,145.38 L291.39,145.56 L292.25,145.73 L293.12,145.91 L293.98,146.08 L294.84,146.26 L295.70,146.43 L296.56,146.60 L297.42,146.77 L298.28,146.95 L299.14,147.12 L300.01,147.28 L300.87,147.45 L301.73,147.62 L302.59,147.79 L303.45,147.96 L304.32,148.12 L305.18,148.29 L306.04,148.45 L306.91,148.61 L307.77,148.78 L308.63,148.94 L309.50,149.10 L310.36,149.26 L311.22,149.42 L312.09,149.58 L312.95,149.74 L313.82,149.90 L314.68,150.06 L315.55,150.21 L316.41,150.37 L317.28,150.52 L318.14,150.68 L319.01,150.83 L319.87,150.98 L320.74,151.14 L321.60,151.29 L322.47,151.44 L323.34,151.59 L324.20,151.74 L325.07,151.89 L325.94,152.03 L326.81,152.18 L327.67,152.33 L328.54,152.47 L329.41,152.62 L330.28,152.76 L331.14,152.91 L332.01,153.05 L332.88,153.19 L333.75,153.33 L334.62,153.47 L335.49,153.61 L336.36,153.75 L337.23,153.89 L338.10,154.03 L338.97,154.16 L339.84,154.30 L340.71,154.43 L341.58,154.57 L342.45,154.70 L343.32,154.83 L344.19,154.97 L345.07,155.10 L345.94,155.23 L346.81,155.36 L347.68,155.49 L348.55,155.62 L349.43,155.74 L350.30,155.87 L351.17,156.00 L352.05,156.12 L352.92,156.25 L353.79,156.37 L354.67,156.49 L355.54,156.61 L356.42,156.74 L357.29,156.86 L358.17,156.98 L359.04,157.10 L359.92,157.21 L360.80,157.33 L361.67,157.45 L362.55,157.57 L363.42,157.68 L364.30,157.80 L365.18,157.91 L366.06,158.02 L366.93,158.13 L367.81,158.25 L368.69,158.36 L369.57,158.47 L370.45,158.58 L371.33,158.68 L372.21,158.79 L373.09,158.90 L373.97,159.00 L374.85,159.11" fill="none" stroke="#f0844a" stroke-width="1.45" stroke-dasharray="2.8 2.6" stroke-dashoffset="-3.430" stroke-linejoin="round"/>
<path d="M44.62,203.10 L44.59,202.10 L44.57,201.09 L44.55,200.09 L44.53,199.09 L44.52,198.08 L44.51,197.08 L44.50,196.09 L44.50,195.09 L44.50,194.09 L44.50,193.10 L44.51,192.10 L44.51,191.11 L44.52,190.12 L44.54,189.13 L44.55,188.14 L44.57,187.15 L44.59,186.17 L44.61,185.18 L44.64,184.19 L44.67,183.21 L44.70,182.23 L44.73,181.24 L44.77,180.26 L44.81,179.28 L44.85,178.30 L44.89,177.32 L44.93,176.35 L44.98,175.37 L45.03,174.39 L45.08,173.42 L45.13,172.44 L45.19,171.47 L45.24,170.49 L45.30,169.52 L45.36,168.55 L45.42,167.57 L45.49,166.60 L45.55,165.63 L45.62,164.66 L45.69,163.69 L45.76,162.72 L45.83,161.75 L45.91,160.78 L45.98,159.82 L46.06,158.85 L46.13,157.88 L46.21,156.91 L46.29,155.94 L46.37,154.98 L46.46,154.01 L46.54,153.04 L46.63,152.08 L46.71,151.11 L46.80,150.14 L46.89,149.18 L46.98,148.21 L47.07,147.25 L47.16,146.28 L47.25,145.31 L47.34,144.35 L47.43,143.38 L47.53,142.41 L47.62,141.45 L47.72,140.48 L47.81,139.51 L47.91,138.55 L48.01,137.58 L48.10,136.61 L48.20,135.64 L48.30,134.68 L48.40,133.71 L48.49,132.74 L48.59,131.77 L48.69,130.80 L48.79,129.83 L48.89,128.86 L48.99,127.89 L49.09,126.92 L49.19,125.94 L49.29,124.97 L49.39,124.00 L49.48,123.02 L49.58,122.05 L49.68,121.08 L49.78,120.10 L49.88,119.12 L49.97,118.15 L50.07,117.17 L50.17,116.19 L50.26,115.21 L50.36,114.23 L50.45,113.25 L50.55,112.27 L50.64,111.28 L50.74,110.30 L50.83,109.31 L50.92,108.33 L51.01,107.34 L51.10,106.35 L51.19,105.37 L51.28,104.38 L51.36,103.38 L51.45,102.39 L51.54,101.40 L51.62,100.40 L51.70,99.41 L51.79,98.41 L51.87,97.42 L51.96,96.42 L52.04,95.42 L52.13,94.42 L52.22,93.43 L52.31,92.43 L52.40,91.44 L52.50,90.44 L52.60,89.45 L52.71,88.45 L52.82,87.46 L52.93,86.47 L53.05,85.48 L53.18,84.49 L53.31,83.51 L53.45,82.53 L53.59,81.55 L53.74,80.57 L53.90,79.59 L54.07,78.62 L54.24,77.65 L54.43,76.69 L54.62,75.72 L54.82,74.76 L55.03,73.81 L55.26,72.86 L55.49,71.91 L55.74,70.97 L55.99,70.03 L56.26,69.09 L56.54,68.16 L56.83,67.24 L57.14,66.32 L57.46,65.41 L57.79,64.50 L58.14,63.60 L58.50,62.70 L58.88,61.81 L59.28,60.93 L59.69,60.05 L60.11,59.18 L60.55,58.32 L61.01,57.46 L61.49,56.61 L61.99,55.77 L62.50,54.93 L63.03,54.11 L63.59,53.31 L64.17,52.54 L64.78,51.78 L65.41,51.07 L66.07,50.38 L66.76,49.74 L67.49,49.14 L68.24,48.60 L69.04,48.10 L69.87,47.67 L70.74,47.29 L71.64,46.98 L72.56,46.72 L73.51,46.52 L74.47,46.37 L75.44,46.26 L76.41,46.19 L77.37,46.17 L78.33,46.18 L79.28,46.23 L80.22,46.31 L81.15,46.43 L82.08,46.58 L82.99,46.76 L83.90,46.97 L84.81,47.20 L85.71,47.47 L86.60,47.76 L87.49,48.08 L88.37,48.42 L89.24,48.78 L90.11,49.17 L90.98,49.58 L91.84,50.00 L92.70,50.45 L93.55,50.91 L94.40,51.38 L95.25,51.87 L96.09,52.38 L96.93,52.89 L97.77,53.42 L98.60,53.95 L99.44,54.50 L100.27,55.05 L101.10,55.61 L101.93,56.17 L102.76,56.74 L103.59,57.31 L104.42,57.88 L105.24,58.45 L106.07,59.02 L106.90,59.59 L107.73,60.16 L108.56,60.72 L109.39,61.28 L110.22,61.85 L111.05,62.41 L111.88,62.96 L112.71,63.52 L113.54,64.08 L114.38,64.63 L115.21,65.18 L116.04,65.73 L116.88,66.28 L117.71,66.83 L118.54,67.37 L119.38,67.92 L120.21,68.46 L121.05,69.00 L121.89,69.54 L122.72,70.07 L123.56,70.61 L124.40,71.14 L125.24,71.67 L126.08,72.20 L126.92,72.73 L127.76,73.26 L128.60,73.78 L129.44,74.31 L130.28,74.83 L131.12,75.35 L131.96,75.87 L132.81,76.38 L133.65,76.90 L134.49,77.41 L135.34,77.92 L136.18,78.43 L137.03,78.94 L137.88,79.44 L138.72,79.95 L139.57,80.45 L140.42,80.95 L141.27,81.45 L142.12,81.95 L142.97,82.44 L143.82,82.94 L144.67,83.43 L145.52,83.92 L146.37,84.41 L147.22,84.89 L148.08,85.38 L148.93,85.86 L149.79,86.34 L150.64,86.82 L151.50,87.30 L152.35,87.78 L153.21,88.25 L154.07,88.72 L154.93,89.20 L155.79,89.66 L156.65,90.13 L157.51,90.60 L158.37,91.06 L159.23,91.52 L160.09,91.98 L160.96,92.44 L161.82,92.90 L162.69,93.35 L163.55,93.80 L164.42,94.25 L165.29,94.70 L166.15,95.15 L167.02,95.60 L167.89,96.04 L168.76,96.48 L169.63,96.92 L170.50,97.36 L171.37,97.80 L172.25,98.23 L173.12,98.66 L173.99,99.09 L174.87,99.52 L175.75,99.95 L176.62,100.37 L177.50,100.80 L178.38,101.22 L179.26,101.64 L180.14,102.06 L181.02,102.47 L181.90,102.89 L182.78,103.30 L183.66,103.71 L184.55,104.12 L185.43,104.52 L186.32,104.93 L187.20,105.33 L188.09,105.73 L188.98,106.13 L189.87,106.53 L190.76,106.92 L191.65,107.32 L192.54,107.71 L193.43,108.10 L194.33,108.48 L195.22,108.87 L196.11,109.25 L197.01,109.64 L197.91,110.01 L198.80,110.39 L199.70,110.77 L200.60,111.14 L201.50,111.51 L202.40,111.89 L203.31,112.25 L204.21,112.62 L205.11,112.98 L206.02,113.35 L206.92,113.71 L207.83,114.07 L208.74,114.42 L209.65,114.78 L210.56,115.13 L211.47,115.48 L212.38,115.83 L213.29,116.18 L214.20,116.52 L215.12,116.87 L216.03,117.21 L216.95,117.55 L217.86,117.89 L218.78,118.22 L219.70,118.56 L220.62,118.89 L221.53,119.22 L222.46,119.55 L223.38,119.88 L224.30,120.20 L225.22,120.53 L226.14,120.85 L227.07,121.17 L227.99,121.49 L228.92,121.81 L229.84,122.12 L230.77,122.44 L231.70,122.75 L232.63,123.06 L233.56,123.37 L234.49,123.67 L235.42,123.98 L236.35,124.28 L237.28,124.59 L238.21,124.89 L239.15,125.19 L240.08,125.48 L241.02,125.78 L241.95,126.08 L242.89,126.37 L243.82,126.66 L244.76,126.95 L245.70,127.24 L246.64,127.53 L247.57,127.81 L248.51,128.10 L249.45,128.38 L250.39,128.66 L251.34,128.94 L252.28,129.22 L253.22,129.49 L254.16,129.77 L255.11,130.04 L256.05,130.32 L256.99,130.59 L257.94,130.86 L258.88,131.13 L259.83,131.39 L260.78,131.66 L261.72,131.93 L262.67,132.19 L263.62,132.45 L264.57,132.71 L265.52,132.97 L266.46,133.23 L267.41,133.49 L268.36,133.74 L269.31,134.00 L270.27,134.25 L271.22,134.50 L272.17,134.75 L273.12,135.00 L274.07,135.25 L275.02,135.50 L275.98,135.74 L276.93,135.99 L277.89,136.23 L278.84,136.47 L279.79,136.71 L280.75,136.95 L281.70,137.19 L282.66,137.43 L283.62,137.67 L284.57,137.90 L285.53,138.14 L286.48,138.37 L287.44,138.60 L288.40,138.83 L289.36,139.06 L290.31,139.29 L291.27,139.52 L292.23,139.75 L293.19,139.98 L294.15,140.20 L295.11,140.43 L296.07,140.65 L297.02,140.87 L297.98,141.09 L298.94,141.31 L299.90,141.53 L300.86,141.75 L301.82,141.97 L302.78,142.19 L303.75,142.40 L304.71,142.62 L305.67,142.83 L306.63,143.05 L307.59,143.26 L308.55,143.47 L309.51,143.68 L310.47,143.89 L311.43,144.10 L312.40,144.31 L313.36,144.52 L314.32,144.72 L315.28,144.93 L316.24,145.14 L317.21,145.34 L318.17,145.55 L319.13,145.75 L320.09,145.95 L321.05,146.15 L322.02,146.35 L322.98,146.55 L323.94,146.75 L324.90,146.95 L325.86,147.15 L326.83,147.35 L327.79,147.55 L328.75,147.74 L329.71,147.94 L330.67,148.14 L331.63,148.33 L332.60,148.52 L333.56,148.72 L334.52,148.91 L335.48,149.10 L336.44,149.30 L337.40,149.49 L338.36,149.68 L339.33,149.87 L340.29,150.06 L341.25,150.25 L342.21,150.44 L343.17,150.63 L344.13,150.81 L345.09,151.00 L346.05,151.19 L347.01,151.38 L347.97,151.56 L348.93,151.75 L349.89,151.93 L350.84,152.12 L351.80,152.30 L352.76,152.49 L353.72,152.67 L354.68,152.86 L355.64,153.04 L356.59,153.22 L357.55,153.40 L358.51,153.59 L359.46,153.77 L360.42,153.95 L361.38,154.13 L362.33,154.31 L363.29,154.49 L364.24,154.68 L365.20,154.86 L366.15,155.04 L367.11,155.22 L368.06,155.40 L369.01,155.58 L369.97,155.76 L370.92,155.94 L371.87,156.11 L372.82,156.29 L373.77,156.47 L374.73,156.65" fill="none" stroke="#a03cf0" stroke-width="1.45" stroke-linejoin="round"/>
<path d="M44.62,203.80 L44.59,202.80 L44.57,201.79 L44.55,200.79 L44.53,199.79 L44.52,198.78 L44.51,197.78 L44.50,196.79 L44.50,195.79 L44.50,194.79 L44.50,193.80 L44.51,192.80 L44.51,191.81 L44.52,190.82 L44.54,189.83 L44.55,188.84 L44.57,187.85 L44.59,186.87 L44.61,185.88 L44.64,184.89 L44.67,183.91 L44.70,182.93 L44.73,181.94 L44.77,180.96 L44.81,179.98 L44.85,179.00 L44.89,178.02 L44.93,177.05 L44.98,176.07 L45.03,175.09 L45.08,174.12 L45.13,173.14 L45.19,172.17 L45.24,171.19 L45.30,170.22 L45.36,169.25 L45.42,168.27 L45.49,167.30 L45.55,166.33 L45.62,165.36 L45.69,164.39 L45.76,163.42 L45.83,162.45 L45.91,161.48 L45.98,160.52 L46.06,159.55 L46.13,158.58 L46.21,157.61 L46.29,156.64 L46.37,155.68 L46.46,154.71 L46.54,153.74 L46.63,152.78 L46.71,151.81 L46.80,150.84 L46.89,149.88 L46.98,148.91 L47.07,147.95 L47.16,146.98 L47.25,146.01 L47.34,145.05 L47.43,144.08 L47.53,143.11 L47.62,142.15 L47.72,141.18 L47.81,140.21 L47.91,139.25 L48.01,138.28 L48.10,137.31 L48.20,136.34 L48.30,135.38 L48.40,134.41 L48.49,133.44 L48.59,132.47 L48.69,131.50 L48.79,130.53 L48.89,129.56 L48.99,128.59 L49.09,127.62 L49.19,126.64 L49.29,125.67 L49.39,124.70 L49.48,123.72 L49.58,122.75 L49.68,121.78 L49.78,120.80 L49.88,119.82 L49.97,118.85 L50.07,117.87 L50.17,116.89 L50.26,115.91 L50.36,114.93 L50.45,113.95 L50.55,112.97 L50.64,111.98 L50.74,111.00 L50.83,110.01 L50.92,109.03 L51.01,108.04 L51.10,107.05 L51.19,106.07 L51.28,105.08 L51.36,104.08 L51.45,103.09 L51.54,102.10 L51.62,101.10 L51.70,100.11 L51.79,99.11 L51.87,98.12 L51.96,97.12 L52.04,96.12 L52.13,95.12 L52.22,94.13 L52.31,93.13 L52.40,92.14 L52.50,91.14 L52.60,90.15 L52.71,89.15 L52.82,88.16 L52.93,87.17 L53.05,86.18 L53.18,85.19 L53.31,84.21 L53.45,83.23 L53.59,82.25 L53.74,81.27 L53.90,80.29 L54.07,79.32 L54.24,78.35 L54.43,77.39 L54.62,76.42 L54.82,75.46 L55.03,74.51 L55.26,73.56 L55.49,72.61 L55.74,71.67 L55.99,70.73 L56.26,69.79 L56.54,68.86 L56.83,67.94 L57.14,67.02 L57.46,66.11 L57.79,65.20 L58.14,64.30 L58.50,63.40 L58.88,62.51 L59.28,61.63 L59.69,60.75 L60.11,59.88 L60.55,59.02 L61.01,58.16 L61.49,57.31 L61.99,56.47 L62.50,55.63 L63.03,54.81 L63.59,54.01 L64.17,53.24 L64.78,52.48 L65.41,51.77 L66.07,51.08 L66.76,50.44 L67.49,49.84 L68.24,49.30 L69.04,48.80 L69.87,48.37 L70.74,47.99 L71.64,47.68 L72.56,47.42 L73.51,47.22 L74.47,47.07 L75.44,46.96 L76.41,46.89 L77.37,46.87 L78.33,46.88 L79.28,46.93 L80.22,47.01 L81.15,47.13 L82.08,47.28 L82.99,47.46 L83.90,47.67 L84.81,47.90 L85.71,48.17 L86.60,48.46 L87.49,48.78 L88.37,49.12 L89.24,49.48 L90.11,49.87 L90.98,50.28 L91.84,50.70 L92.70,51.15 L93.55,51.61 L94.40,52.08 L95.25,52.57 L96.09,53.08 L96.93,53.59 L97.77,54.12 L98.60,54.65 L99.44,55.20 L100.27,55.75 L101.10,56.31 L101.93,56.87 L102.76,57.44 L103.59,58.01 L104.42,58.58 L105.24,59.15 L106.07,59.72 L106.90,60.29 L107.73,60.86 L108.56,61.42 L109.39,61.98 L110.22,62.55 L111.05,63.11 L111.88,63.66 L112.71,64.22 L113.54,64.78 L114.38,65.33 L115.21,65.88 L116.04,66.43 L116.88,66.98 L117.71,67.53 L118.54,68.07 L119.38,68.62 L120.21,69.16 L121.05,69.70 L121.89,70.24 L122.72,70.77 L123.56,71.31 L124.40,71.84 L125.24,72.37 L126.08,72.90 L126.92,73.43 L127.76,73.96 L128.60,74.48 L129.44,75.01 L130.28,75.53 L131.12,76.05 L131.96,76.57 L132.81,77.08 L133.65,77.60 L134.49,78.11 L135.34,78.62 L136.18,79.13 L137.03,79.64 L137.88,80.14 L138.72,80.65 L139.57,81.15 L140.42,81.65 L141.27,82.15 L142.12,82.65 L142.97,83.14 L143.82,83.64 L144.67,84.13 L145.52,84.62 L146.37,85.11 L147.22,85.59 L148.08,86.08 L148.93,86.56 L149.79,87.04 L150.64,87.52 L151.50,88.00 L152.35,88.48 L153.21,88.95 L154.07,89.42 L154.93,89.90 L155.79,90.36 L156.65,90.83 L157.51,91.30 L158.37,91.76 L159.23,92.22 L160.09,92.68 L160.96,93.14 L161.82,93.60 L162.69,94.05 L163.55,94.50 L164.42,94.95 L165.29,95.40 L166.15,95.85 L167.02,96.30 L167.89,96.74 L168.76,97.18 L169.63,97.62 L170.50,98.06 L171.37,98.50 L172.25,98.93 L173.12,99.36 L173.99,99.79 L174.87,100.22 L175.75,100.65 L176.62,101.07 L177.50,101.50 L178.38,101.92 L179.26,102.34 L180.14,102.76 L181.02,103.17 L181.90,103.59 L182.78,104.00 L183.66,104.41 L184.55,104.82 L185.43,105.22 L186.32,105.63 L187.20,106.03 L188.09,106.43 L188.98,106.83 L189.87,107.23 L190.76,107.62 L191.65,108.02 L192.54,108.41 L193.43,108.80 L194.33,109.18 L195.22,109.57 L196.11,109.95 L197.01,110.34 L197.91,110.71 L198.80,111.09 L199.70,111.47 L200.60,111.84 L201.50,112.21 L202.40,112.59 L203.31,112.95 L204.21,113.32 L205.11,113.68 L206.02,114.05 L206.92,114.41 L207.83,114.77 L208.74,115.12 L209.65,115.48 L210.56,115.83 L211.47,116.18 L212.38,116.53 L213.29,116.88 L214.20,117.22 L215.12,117.57 L216.03,117.91 L216.95,118.25 L217.86,118.59 L218.78,118.92 L219.70,119.26 L220.62,119.59 L221.53,119.92 L222.46,120.25 L223.38,120.58 L224.30,120.90 L225.22,121.23 L226.14,121.55 L227.07,121.87 L227.99,122.19 L228.92,122.51 L229.84,122.82 L230.77,123.14 L231.70,123.45 L232.63,123.76 L233.56,124.07 L234.49,124.37 L235.42,124.68 L236.35,124.98 L237.28,125.29 L238.21,125.59 L239.15,125.89 L240.08,126.18 L241.02,126.48 L241.95,126.78 L242.89,127.07 L243.82,127.36 L244.76,127.65 L245.70,127.94 L246.64,128.23 L247.57,128.51 L248.51,128.80 L249.45,129.08 L250.39,129.36 L251.34,129.64 L252.28,129.92 L253.22,130.19 L254.16,130.47 L255.11,130.74 L256.05,131.02 L256.99,131.29 L257.94,131.56 L258.88,131.83 L259.83,132.09 L260.78,132.36 L261.72,132.63 L262.67,132.89 L263.62,133.15 L264.57,133.41 L265.52,133.67 L266.46,133.93 L267.41,134.19 L268.36,134.44 L269.31,134.70 L270.27,134.95 L271.22,135.20 L272.17,135.45 L273.12,135.70 L274.07,135.95 L275.02,136.20 L275.98,136.44 L276.93,136.69 L277.89,136.93 L278.84,137.17 L279.79,137.41 L280.75,137.65 L281.70,137.89 L282.66,138.13 L283.62,138.37 L284.57,138.60 L285.53,138.84 L286.48,139.07 L287.44,139.30 L288.40,139.53 L289.36,139.76 L290.31,139.99 L291.27,140.22 L292.23,140.45 L293.19,140.68 L294.15,140.90 L295.11,141.13 L296.07,141.35 L297.02,141.57 L297.98,141.79 L298.94,142.01 L299.90,142.23 L300.86,142.45 L301.82,142.67 L302.78,142.89 L303.75,143.10 L304.71,143.32 L305.67,143.53 L306.63,143.75 L307.59,143.96 L308.55,144.17 L309.51,144.38 L310.47,144.59 L311.43,144.80 L312.40,145.01 L313.36,145.22 L314.32,145.42 L315.28,145.63 L316.24,145.84 L317.21,146.04 L318.17,146.25 L319.13,146.45 L320.09,146.65 L321.05,146.85 L322.02,147.05 L322.98,147.25 L323.94,147.45 L324.90,147.65 L325.86,147.85 L326.83,148.05 L327.79,148.25 L328.75,148.44 L329.71,148.64 L330.67,148.84 L331.63,149.03 L332.60,149.22 L333.56,149.42 L334.52,149.61 L335.48,149.80 L336.44,150.00 L337.40,150.19 L338.36,150.38 L339.33,150.57 L340.29,150.76 L341.25,150.95 L342.21,151.14 L343.17,151.33 L344.13,151.51 L345.09,151.70 L346.05,151.89 L347.01,152.08 L347.97,152.26 L348.93,152.45 L349.89,152.63 L350.84,152.82 L351.80,153.00 L352.76,153.19 L353.72,153.37 L354.68,153.56 L355.64,153.74 L356.59,153.92 L357.55,154.10 L358.51,154.29 L359.46,154.47 L360.42,154.65 L361.38,154.83 L362.33,155.01 L363.29,155.19 L364.24,155.38 L365.20,155.56 L366.15,155.74 L367.11,155.92 L368.06,156.10 L369.01,156.28 L369.97,156.46 L370.92,156.64 L371.87,156.81 L372.82,156.99 L373.77,157.17 L374.73,157.35" fill="none" stroke="#a03cf0" stroke-width="1.45" stroke-dasharray="2.8 2.6" stroke-linejoin="round"/>
<path d="M44.38,201.94 L44.41,200.92 L44.45,199.89 L44.48,198.86 L44.52,197.83 L44.55,196.80 L44.59,195.77 L44.62,194.74 L44.66,193.71 L44.70,192.68 L44.73,191.65 L44.77,190.62 L44.81,189.58 L44.85,188.55 L44.89,187.52 L44.93,186.48 L44.97,185.45 L45.01,184.41 L45.05,183.38 L45.09,182.34 L45.13,181.31 L45.17,180.27 L45.22,179.23 L45.26,178.20 L45.30,177.16 L45.35,176.12 L45.39,175.09 L45.44,174.05 L45.49,173.01 L45.53,171.97 L45.58,170.93 L45.63,169.89 L45.68,168.85 L45.72,167.81 L45.77,166.77 L45.82,165.73 L45.87,164.69 L45.93,163.65 L45.98,162.61 L46.03,161.57 L46.08,160.53 L46.14,159.49 L46.19,158.45 L46.25,157.41 L46.30,156.37 L46.36,155.33 L46.42,154.28 L46.47,153.24 L46.53,152.20 L46.59,151.16 L46.65,150.12 L46.71,149.08 L46.77,148.03 L46.83,146.99 L46.90,145.95 L46.96,144.91 L47.02,143.87 L47.09,142.83 L47.15,141.79 L47.22,140.74 L47.29,139.70 L47.35,138.66 L47.42,137.62 L47.49,136.58 L47.56,135.54 L47.63,134.50 L47.70,133.46 L47.78,132.42 L47.85,131.38 L47.92,130.34 L48.00,129.30 L48.07,128.26 L48.15,127.22 L48.23,126.18 L48.31,125.14 L48.38,124.10 L48.46,123.06 L48.54,122.03 L48.63,120.99 L48.71,119.95 L48.79,118.91 L48.88,117.88 L48.96,116.84 L49.05,115.80 L49.13,114.77 L49.22,113.73 L49.31,112.70 L49.40,111.66 L49.49,110.63 L49.58,109.60 L49.67,108.56 L49.77,107.53 L49.86,106.50 L49.96,105.46 L50.05,104.43 L50.15,103.40 L50.25,102.37 L50.35,101.34 L50.45,100.31 L50.55,99.28 L50.65,98.25 L50.75,97.22 L50.86,96.20 L50.96,95.17 L51.07,94.14 L51.18,93.12 L51.28,92.09 L51.39,91.07 L51.50,90.04 L51.62,89.02 L51.73,88.00 L51.84,86.97 L51.96,85.95 L52.07,84.93 L52.19,83.91 L52.31,82.89 L52.43,81.87 L52.55,80.86 L52.67,79.84 L52.79,78.82 L52.92,77.81 L53.04,76.79 L53.17,75.77 L53.30,74.76 L53.44,73.74 L53.57,72.73 L53.71,71.71 L53.85,70.70 L54.00,69.68 L54.15,68.67 L54.30,67.65 L54.46,66.64 L54.62,65.62 L54.78,64.60 L54.95,63.59 L55.12,62.57 L55.30,61.55 L55.48,60.53 L55.67,59.51 L55.86,58.49 L56.06,57.47 L56.27,56.45 L56.48,55.42 L56.69,54.40 L56.91,53.37 L57.14,52.34 L57.38,51.31 L57.62,50.28 L57.87,49.25 L58.12,48.22 L58.39,47.18 L58.66,46.14 L58.94,45.10 L59.22,44.06 L59.52,43.02 L59.82,41.98 L60.13,40.93 L60.45,39.88 L60.78,38.83 L61.12,37.78 L61.48,36.74 L61.85,35.71 L62.24,34.69 L62.66,33.70 L63.10,32.73 L63.57,31.79 L64.07,30.89 L64.60,30.03 L65.18,29.21 L65.79,28.45 L66.45,27.73 L67.14,27.08 L67.88,26.48 L68.65,25.94 L69.46,25.47 L70.31,25.07 L71.19,24.73 L72.11,24.47 L73.05,24.27 L74.02,24.14 L75.01,24.06 L76.01,24.04 L77.01,24.07 L78.03,24.15 L79.04,24.27 L80.04,24.44 L81.03,24.64 L82.01,24.88 L82.97,25.15 L83.92,25.45 L84.86,25.79 L85.79,26.16 L86.71,26.55 L87.61,26.97 L88.51,27.42 L89.39,27.89 L90.27,28.39 L91.14,28.90 L92.00,29.44 L92.85,30.00 L93.70,30.58 L94.53,31.17 L95.37,31.78 L96.19,32.40 L97.02,33.04 L97.83,33.69 L98.65,34.34 L99.46,35.01 L100.27,35.68 L101.07,36.36 L101.88,37.05 L102.68,37.74 L103.48,38.43 L104.29,39.13 L105.09,39.82 L105.89,40.51 L106.70,41.20 L107.50,41.88 L108.31,42.57 L109.12,43.25 L109.93,43.93 L110.74,44.61 L111.55,45.28 L112.37,45.95 L113.18,46.62 L114.00,47.29 L114.82,47.95 L115.64,48.61 L116.46,49.27 L117.28,49.93 L118.11,50.58 L118.93,51.23 L119.76,51.88 L120.59,52.53 L121.41,53.17 L122.25,53.81 L123.08,54.45 L123.91,55.09 L124.74,55.72 L125.58,56.36 L126.42,56.99 L127.25,57.61 L128.09,58.24 L128.93,58.86 L129.78,59.48 L130.62,60.10 L131.46,60.71 L132.31,61.32 L133.16,61.93 L134.00,62.54 L134.85,63.15 L135.70,63.75 L136.56,64.35 L137.41,64.95 L138.26,65.55 L139.12,66.14 L139.98,66.73 L140.84,67.32 L141.69,67.91 L142.56,68.49 L143.42,69.07 L144.28,69.65 L145.15,70.23 L146.01,70.80 L146.88,71.38 L147.75,71.95 L148.62,72.51 L149.49,73.08 L150.36,73.64 L151.23,74.20 L152.11,74.76 L152.98,75.32 L153.86,75.87 L154.74,76.43 L155.61,76.97 L156.49,77.52 L157.38,78.07 L158.26,78.61 L159.14,79.15 L160.03,79.69 L160.91,80.22 L161.80,80.76 L162.69,81.29 L163.58,81.82 L164.47,82.35 L165.36,82.87 L166.26,83.39 L167.15,83.91 L168.05,84.43 L168.94,84.95 L169.84,85.46 L170.74,85.97 L171.64,86.48 L172.54,86.99 L173.44,87.49 L174.35,88.00 L175.25,88.50 L176.16,89.00 L177.06,89.49 L177.97,89.99 L178.88,90.48 L179.79,90.97 L180.70,91.45 L181.62,91.94 L182.53,92.42 L183.45,92.90 L184.36,93.38 L185.28,93.86 L186.20,94.33 L187.12,94.81 L188.04,95.28 L188.96,95.75 L189.88,96.21 L190.80,96.68 L191.73,97.14 L192.65,97.60 L193.58,98.06 L194.51,98.51 L195.44,98.96 L196.37,99.42 L197.30,99.87 L198.23,100.31 L199.17,100.76 L200.10,101.20 L201.04,101.64 L201.97,102.08 L202.91,102.52 L203.85,102.95 L204.79,103.39 L205.73,103.82 L206.67,104.25 L207.61,104.67 L208.56,105.10 L209.50,105.52 L210.45,105.94 L211.39,106.36 L212.34,106.78 L213.29,107.19 L214.24,107.61 L215.19,108.02 L216.14,108.43 L217.10,108.83 L218.05,109.24 L219.01,109.64 L219.96,110.04 L220.92,110.44 L221.87,110.84 L222.83,111.23 L223.79,111.63 L224.75,112.02 L225.71,112.41 L226.68,112.80 L227.64,113.18 L228.60,113.57 L229.57,113.95 L230.53,114.33 L231.50,114.71 L232.47,115.09 L233.43,115.46 L234.40,115.83 L235.37,116.20 L236.34,116.57 L237.31,116.94 L238.29,117.31 L239.26,117.67 L240.23,118.03 L241.21,118.39 L242.18,118.75 L243.16,119.11 L244.13,119.47 L245.11,119.82 L246.09,120.17 L247.07,120.52 L248.05,120.87 L249.03,121.22 L250.01,121.56 L250.99,121.90 L251.97,122.24 L252.96,122.58 L253.94,122.92 L254.92,123.26 L255.91,123.59 L256.89,123.93 L257.88,124.26 L258.87,124.59 L259.86,124.92 L260.84,125.24 L261.83,125.57 L262.82,125.89 L263.81,126.21 L264.80,126.53 L265.79,126.85 L266.79,127.17 L267.78,127.48 L268.77,127.80 L269.77,128.11 L270.76,128.42 L271.75,128.73 L272.75,129.03 L273.75,129.34 L274.74,129.64 L275.74,129.95 L276.74,130.25 L277.73,130.55 L278.73,130.85 L279.73,131.14 L280.73,131.44 L281.73,131.73 L282.73,132.02 L283.73,132.31 L284.73,132.60 L285.73,132.89 L286.74,133.18 L287.74,133.46 L288.74,133.75 L289.75,134.03 L290.75,134.31 L291.75,134.59 L292.76,134.87 L293.76,135.14 L294.77,135.42 L295.77,135.69 L296.78,135.96 L297.79,136.24 L298.79,136.50 L299.80,136.77 L300.81,137.04 L301.81,137.31 L302.82,137.57 L303.83,137.83 L304.84,138.09 L305.85,138.35 L306.86,138.61 L307.87,138.87 L308.88,139.13 L309.89,139.38 L310.90,139.63 L311.91,139.89 L312.92,140.14 L313.93,140.39 L314.94,140.64 L315.95,140.88 L316.96,141.13 L317.98,141.38 L318.99,141.62 L320.00,141.86 L321.01,142.10 L322.03,142.34 L323.04,142.58 L324.05,142.82 L325.07,143.06 L326.08,143.29 L327.09,143.53 L328.11,143.76 L329.12,143.99 L330.13,144.22 L331.15,144.45 L332.16,144.68 L333.18,144.91 L334.19,145.13 L335.20,145.36 L336.22,145.58 L337.23,145.80 L338.25,146.03 L339.26,146.25 L340.28,146.47 L341.29,146.68 L342.31,146.90 L343.32,147.12 L344.34,147.33 L345.35,147.55 L346.37,147.76 L347.38,147.97 L348.40,148.18 L349.41,148.39 L350.43,148.60 L351.44,148.81 L352.45,149.02 L353.47,149.23 L354.48,149.43 L355.50,149.64 L356.51,149.84 L357.53,150.04 L358.54,150.24 L359.56,150.44 L360.57,150.64 L361.58,150.84 L362.60,151.04 L363.61,151.24 L364.63,151.43 L365.64,151.63 L366.65,151.82 L367.67,152.01 L368.68,152.21 L369.69,152.40 L370.70,152.59 L371.72,152.78 L372.73,152.97 L373.74,153.15 L374.75,153.34" fill="none" stroke="#48f03a" stroke-width="1.45" stroke-linejoin="round"/>
<path d="M44.38,201.64 L44.41,200.62 L44.45,199.59 L44.48,198.56 L44.52,197.53 L44.55,196.50 L44.59,195.47 L44.62,194.44 L44.66,193.41 L44.70,192.38 L44.73,191.35 L44.77,190.32 L44.81,189.28 L44.85,188.25 L44.89,187.22 L44.93,186.18 L44.97,185.15 L45.01,184.11 L45.05,183.08 L45.09,182.04 L45.13,181.01 L45.17,179.97 L45.22,178.93 L45.26,177.90 L45.30,176.86 L45.35,175.82 L45.39,174.79 L45.44,173.75 L45.49,172.71 L45.53,171.67 L45.58,170.63 L45.63,169.59 L45.68,168.55 L45.72,167.51 L45.77,166.47 L45.82,165.43 L45.87,164.39 L45.93,163.35 L45.98,162.31 L46.03,161.27 L46.08,160.23 L46.14,159.19 L46.19,158.15 L46.25,157.11 L46.30,156.07 L46.36,155.03 L46.42,153.98 L46.47,152.94 L46.53,151.90 L46.59,150.86 L46.65,149.82 L46.71,148.78 L46.77,147.73 L46.83,146.69 L46.90,145.65 L46.96,144.61 L47.02,143.57 L47.09,142.53 L47.15,141.49 L47.22,140.44 L47.29,139.40 L47.35,138.36 L47.42,137.32 L47.49,136.28 L47.56,135.24 L47.63,134.20 L47.70,133.16 L47.78,132.12 L47.85,131.08 L47.92,130.04 L48.00,129.00 L48.07,127.96 L48.15,126.92 L48.23,125.88 L48.31,124.84 L48.38,123.80 L48.46,122.76 L48.54,121.73 L48.63,120.69 L48.71,119.65 L48.79,118.61 L48.88,117.58 L48.96,116.54 L49.05,115.50 L49.13,114.47 L49.22,113.43 L49.31,112.40 L49.40,111.36 L49.49,110.33 L49.58,109.30 L49.67,108.26 L49.77,107.23 L49.86,106.20 L49.96,105.16 L50.05,104.13 L50.15,103.10 L50.25,102.07 L50.35,101.04 L50.45,100.01 L50.55,98.98 L50.65,97.95 L50.75,96.92 L50.86,95.90 L50.96,94.87 L51.07,93.84 L51.18,92.82 L51.28,91.79 L51.39,90.77 L51.50,89.74 L51.62,88.72 L51.73,87.70 L51.84,86.67 L51.96,85.65 L52.07,84.63 L52.19,83.61 L52.31,82.59 L52.43,81.57 L52.55,80.56 L52.67,79.54 L52.79,78.52 L52.92,77.51 L53.04,76.49 L53.17,75.47 L53.30,74.46 L53.44,73.44 L53.57,72.43 L53.71,71.41 L53.85,70.40 L54.00,69.38 L54.15,68.37 L54.30,67.35 L54.46,66.34 L54.62,65.32 L54.78,64.30 L54.95,63.29 L55.12,62.27 L55.30,61.25 L55.48,60.23 L55.67,59.21 L55.86,58.19 L56.06,57.17 L56.27,56.15 L56.48,55.12 L56.69,54.10 L56.91,53.07 L57.14,52.04 L57.38,51.01 L57.62,49.98 L57.87,48.95 L58.12,47.92 L58.39,46.88 L58.66,45.84 L58.94,44.80 L59.22,43.76 L59.52,42.72 L59.82,41.68 L60.13,40.63 L60.45,39.58 L60.78,38.53 L61.12,37.48 L61.48,36.44 L61.85,35.41 L62.24,34.39 L62.66,33.40 L63.10,32.43 L63.57,31.49 L64.07,30.59 L64.60,29.73 L65.18,28.91 L65.79,28.15 L66.45,27.43 L67.14,26.78 L67.88,26.18 L68.65,25.64 L69.46,25.17 L70.31,24.77 L71.19,24.43 L72.11,24.17 L73.05,23.97 L74.02,23.84 L75.01,23.76 L76.01,23.74 L77.01,23.77 L78.03,23.85 L79.04,23.97 L80.04,24.14 L81.03,24.34 L82.01,24.58 L82.97,24.85 L83.92,25.15 L84.86,25.49 L85.79,25.86 L86.71,26.25 L87.61,26.67 L88.51,27.12 L89.39,27.59 L90.27,28.09 L91.14,28.60 L92.00,29.14 L92.85,29.70 L93.70,30.28 L94.53,30.87 L95.37,31.48 L96.19,32.10 L97.02,32.74 L97.83,33.39 L98.65,34.04 L99.46,34.71 L100.27,35.38 L101.07,36.06 L101.88,36.75 L102.68,37.44 L103.48,38.13 L104.29,38.83 L105.09,39.52 L105.89,40.21 L106.70,40.90 L107.50,41.58 L108.31,42.27 L109.12,42.95 L109.93,43.63 L110.74,44.31 L111.55,44.98 L112.37,45.65 L113.18,46.32 L114.00,46.99 L114.82,47.65 L115.64,48.31 L116.46,48.97 L117.28,49.63 L118.11,50.28 L118.93,50.93 L119.76,51.58 L120.59,52.23 L121.41,52.87 L122.25,53.51 L123.08,54.15 L123.91,54.79 L124.74,55.42 L125.58,56.06 L126.42,56.69 L127.25,57.31 L128.09,57.94 L128.93,58.56 L129.78,59.18 L130.62,59.80 L131.46,60.41 L132.31,61.02 L133.16,61.63 L134.00,62.24 L134.85,62.85 L135.70,63.45 L136.56,64.05 L137.41,64.65 L138.26,65.25 L139.12,65.84 L139.98,66.43 L140.84,67.02 L141.69,67.61 L142.56,68.19 L143.42,68.77 L144.28,69.35 L145.15,69.93 L146.01,70.50 L146.88,71.08 L147.75,71.65 L148.62,72.21 L149.49,72.78 L150.36,73.34 L151.23,73.90 L152.11,74.46 L152.98,75.02 L153.86,75.57 L154.74,76.13 L155.61,76.67 L156.49,77.22 L157.38,77.77 L158.26,78.31 L159.14,78.85 L160.03,79.39 L160.91,79.92 L161.80,80.46 L162.69,80.99 L163.58,81.52 L164.47,82.05 L165.36,82.57 L166.26,83.09 L167.15,83.61 L168.05,84.13 L168.94,84.65 L169.84,85.16 L170.74,85.67 L171.64,86.18 L172.54,86.69 L173.44,87.19 L174.35,87.70 L175.25,88.20 L176.16,88.70 L177.06,89.19 L177.97,89.69 L178.88,90.18 L179.79,90.67 L180.70,91.15 L181.62,91.64 L182.53,92.12 L183.45,92.60 L184.36,93.08 L185.28,93.56 L186.20,94.03 L187.12,94.51 L188.04,94.98 L188.96,95.45 L189.88,95.91 L190.80,96.38 L191.73,96.84 L192.65,97.30 L193.58,97.76 L194.51,98.21 L195.44,98.66 L196.37,99.12 L197.30,99.57 L198.23,100.01 L199.17,100.46 L200.10,100.90 L201.04,101.34 L201.97,101.78 L202.91,102.22 L203.85,102.65 L204.79,103.09 L205.73,103.52 L206.67,103.95 L207.61,104.37 L208.56,104.80 L209.50,105.22 L210.45,105.64 L211.39,106.06 L212.34,106.48 L213.29,106.89 L214.24,107.31 L215.19,107.72 L216.14,108.13 L217.10,108.53 L218.05,108.94 L219.01,109.34 L219.96,109.74 L220.92,110.14 L221.87,110.54 L222.83,110.93 L223.79,111.33 L224.75,111.72 L225.71,112.11 L226.68,112.50 L227.64,112.88 L228.60,113.27 L229.57,113.65 L230.53,114.03 L231.50,114.41 L232.47,114.79 L233.43,115.16 L234.40,115.53 L235.37,115.90 L236.34,116.27 L237.31,116.64 L238.29,117.01 L239.26,117.37 L240.23,117.73 L241.21,118.09 L242.18,118.45 L243.16,118.81 L244.13,119.17 L245.11,119.52 L246.09,119.87 L247.07,120.22 L248.05,120.57 L249.03,120.92 L250.01,121.26 L250.99,121.60 L251.97,121.94 L252.96,122.28 L253.94,122.62 L254.92,122.96 L255.91,123.29 L256.89,123.63 L257.88,123.96 L258.87,124.29 L259.86,124.62 L260.84,124.94 L261.83,125.27 L262.82,125.59 L263.81,125.91 L264.80,126.23 L265.79,126.55 L266.79,126.87 L267.78,127.18 L268.77,127.50 L269.77,127.81 L270.76,128.12 L271.75,128.43 L272.75,128.73 L273.75,129.04 L274.74,129.34 L275.74,129.65 L276.74,129.95 L277.73,130.25 L278.73,130.55 L279.73,130.84 L280.73,131.14 L281.73,131.43 L282.73,131.72 L283.73,132.01 L284.73,132.30 L285.73,132.59 L286.74,132.88 L287.74,133.16 L288.74,133.45 L289.75,133.73 L290.75,134.01 L291.75,134.29 L292.76,134.57 L293.76,134.84 L294.77,135.12 L295.77,135.39 L296.78,135.66 L297.79,135.94 L298.79,136.20 L299.80,136.47 L300.81,136.74 L301.81,137.01 L302.82,137.27 L303.83,137.53 L304.84,137.79 L305.85,138.05 L306.86,138.31 L307.87,138.57 L308.88,138.83 L309.89,139.08 L310.90,139.33 L311.91,139.59 L312.92,139.84 L313.93,140.09 L314.94,140.34 L315.95,140.58 L316.96,140.83 L317.98,141.08 L318.99,141.32 L320.00,141.56 L321.01,141.80 L322.03,142.04 L323.04,142.28 L324.05,142.52 L325.07,142.76 L326.08,142.99 L327.09,143.23 L328.11,143.46 L329.12,143.69 L330.13,143.92 L331.15,144.15 L332.16,144.38 L333.18,144.61 L334.19,144.83 L335.20,145.06 L336.22,145.28 L337.23,145.50 L338.25,145.73 L339.26,145.95 L340.28,146.17 L341.29,146.38 L342.31,146.60 L343.32,146.82 L344.34,147.03 L345.35,147.25 L346.37,147.46 L347.38,147.67 L348.40,147.88 L349.41,148.09 L350.43,148.30 L351.44,148.51 L352.45,148.72 L353.47,148.93 L354.48,149.13 L355.50,149.34 L356.51,149.54 L357.53,149.74 L358.54,149.94 L359.56,150.14 L360.57,150.34 L361.58,150.54 L362.60,150.74 L363.61,150.94 L364.63,151.13 L365.64,151.33 L366.65,151.52 L367.67,151.71 L368.68,151.91 L369.69,152.10 L370.70,152.29 L371.72,152.48 L372.73,152.67 L373.74,152.85 L374.75,153.04" fill="none" stroke="#48f03a" stroke-width="1.45" stroke-dasharray="2.8 2.6" stroke-linejoin="round"/>
<path d="M44.96,212.46 L44.97,211.49 L44.98,210.51 L45.00,209.54 L45.01,208.57 L45.03,207.60 L45.05,206.63 L45.07,205.66 L45.09,204.69 L45.11,203.72 L45.14,202.75 L45.16,201.78 L45.19,200.81 L45.22,199.84 L45.25,198.88 L45.28,197.91 L45.31,196.95 L45.35,195.98 L45.38,195.02 L45.42,194.05 L45.46,193.09 L45.50,192.12 L45.54,191.16 L45.58,190.20 L45.62,189.24 L45.67,188.28 L45.72,187.31 L45.76,186.35 L45.81,185.39 L45.86,184.43 L45.91,183.47 L45.96,182.51 L46.02,181.55 L46.07,180.59 L46.13,179.64 L46.18,178.68 L46.24,177.72 L46.30,176.76 L46.36,175.81 L46.42,174.85 L46.49,173.89 L46.55,172.93 L46.62,171.98 L46.68,171.02 L46.75,170.07 L46.82,169.11 L46.89,168.15 L46.96,167.20 L47.03,166.24 L47.10,165.29 L47.17,164.33 L47.25,163.38 L47.32,162.42 L47.40,161.47 L47.48,160.51 L47.55,159.56 L47.63,158.60 L47.71,157.65 L47.79,156.69 L47.88,155.74 L47.96,154.78 L48.04,153.83 L48.13,152.88 L48.21,151.92 L48.30,150.97 L48.39,150.01 L48.47,149.06 L48.56,148.10 L48.65,147.15 L48.74,146.19 L48.83,145.24 L48.92,144.28 L49.02,143.33 L49.11,142.37 L49.21,141.42 L49.30,140.46 L49.40,139.50 L49.49,138.55 L49.59,137.59 L49.69,136.64 L49.79,135.68 L49.89,134.72 L49.99,133.77 L50.09,132.81 L50.19,131.85 L50.29,130.89 L50.39,129.94 L50.49,128.98 L50.60,128.02 L50.70,127.06 L50.81,126.10 L50.91,125.14 L51.02,124.18 L51.13,123.22 L51.23,122.26 L51.34,121.30 L51.45,120.34 L51.56,119.38 L51.67,118.42 L51.78,117.45 L51.89,116.49 L52.01,115.53 L52.12,114.57 L52.24,113.61 L52.36,112.65 L52.49,111.69 L52.61,110.73 L52.74,109.77 L52.87,108.81 L53.01,107.85 L53.15,106.89 L53.29,105.93 L53.44,104.98 L53.59,104.02 L53.74,103.07 L53.90,102.11 L54.07,101.16 L54.24,100.21 L54.41,99.26 L54.59,98.31 L54.78,97.36 L54.97,96.42 L55.16,95.47 L55.36,94.53 L55.57,93.59 L55.79,92.65 L56.01,91.71 L56.24,90.78 L56.48,89.84 L56.72,88.91 L56.97,87.98 L57.23,87.05 L57.49,86.13 L57.77,85.21 L58.05,84.29 L58.34,83.37 L58.64,82.45 L58.95,81.54 L59.27,80.63 L59.59,79.72 L59.93,78.82 L60.28,77.91 L60.63,77.02 L61.00,76.12 L61.37,75.23 L61.76,74.34 L62.16,73.45 L62.57,72.57 L62.98,71.69 L63.41,70.81 L63.86,69.94 L64.31,69.07 L64.78,68.21 L65.27,67.37 L65.77,66.53 L66.29,65.71 L66.83,64.91 L67.38,64.13 L67.97,63.37 L68.57,62.63 L69.20,61.92 L69.86,61.24 L70.54,60.59 L71.25,59.98 L71.99,59.39 L72.76,58.85 L73.56,58.35 L74.38,57.88 L75.22,57.45 L76.09,57.06 L76.96,56.71 L77.85,56.40 L78.75,56.13 L79.66,55.89 L80.57,55.70 L81.48,55.55 L82.39,55.44 L83.30,55.36 L84.21,55.32 L85.12,55.32 L86.03,55.34 L86.94,55.41 L87.85,55.50 L88.76,55.62 L89.67,55.77 L90.58,55.94 L91.49,56.14 L92.40,56.36 L93.31,56.61 L94.22,56.88 L95.13,57.16 L96.03,57.46 L96.94,57.78 L97.85,58.12 L98.75,58.47 L99.66,58.83 L100.56,59.20 L101.47,59.58 L102.37,59.97 L103.27,60.36 L104.17,60.76 L105.07,61.16 L105.96,61.57 L106.86,61.98 L107.75,62.39 L108.65,62.80 L109.54,63.21 L110.43,63.62 L111.32,64.03 L112.21,64.45 L113.10,64.86 L113.99,65.28 L114.87,65.70 L115.76,66.12 L116.64,66.54 L117.52,66.96 L118.40,67.38 L119.28,67.80 L120.16,68.22 L121.04,68.65 L121.92,69.07 L122.80,69.50 L123.67,69.93 L124.55,70.35 L125.42,70.78 L126.29,71.21 L127.17,71.64 L128.04,72.07 L128.91,72.50 L129.78,72.93 L130.65,73.37 L131.52,73.80 L132.39,74.23 L133.25,74.66 L134.12,75.10 L134.99,75.53 L135.85,75.97 L136.72,76.40 L137.58,76.84 L138.45,77.27 L139.31,77.71 L140.17,78.15 L141.04,78.58 L141.90,79.02 L142.76,79.45 L143.62,79.89 L144.48,80.33 L145.34,80.76 L146.20,81.20 L147.06,81.64 L147.92,82.07 L148.78,82.51 L149.64,82.95 L150.50,83.38 L151.35,83.82 L152.21,84.26 L153.07,84.69 L153.93,85.13 L154.79,85.56 L155.64,86.00 L156.50,86.43 L157.36,86.86 L158.21,87.30 L159.07,87.73 L159.93,88.16 L160.78,88.60 L161.64,89.03 L162.50,89.46 L163.36,89.89 L164.21,90.32 L165.07,90.75 L165.93,91.18 L166.78,91.61 L167.64,92.04 L168.50,92.46 L169.36,92.89 L170.21,93.31 L171.07,93.74 L171.93,94.16 L172.79,94.58 L173.65,95.00 L174.51,95.43 L175.37,95.84 L176.23,96.26 L177.09,96.68 L177.95,97.10 L178.81,97.51 L179.67,97.93 L180.53,98.34 L181.39,98.75 L182.26,99.16 L183.12,99.57 L183.98,99.98 L184.85,100.39 L185.71,100.79 L186.58,101.20 L187.44,101.60 L188.31,102.00 L189.18,102.40 L190.05,102.80 L190.91,103.20 L191.78,103.59 L192.65,103.99 L193.52,104.38 L194.40,104.77 L195.27,105.16 L196.14,105.54 L197.01,105.93 L197.89,106.31 L198.77,106.70 L199.64,107.08 L200.52,107.45 L201.40,107.83 L202.28,108.20 L203.16,108.58 L204.04,108.95 L204.92,109.32 L205.80,109.68 L206.69,110.05 L207.57,110.41 L208.46,110.77 L209.34,111.13 L210.23,111.49 L211.12,111.84 L212.01,112.20 L212.90,112.55 L213.79,112.90 L214.69,113.24 L215.58,113.59 L216.48,113.93 L217.37,114.27 L218.27,114.61 L219.16,114.95 L220.06,115.29 L220.96,115.62 L221.86,115.95 L222.76,116.28 L223.66,116.61 L224.57,116.94 L225.47,117.27 L226.37,117.59 L227.28,117.91 L228.18,118.23 L229.09,118.55 L230.00,118.87 L230.91,119.18 L231.81,119.50 L232.72,119.81 L233.63,120.12 L234.55,120.43 L235.46,120.74 L236.37,121.04 L237.28,121.35 L238.20,121.65 L239.11,121.95 L240.03,122.25 L240.94,122.55 L241.86,122.84 L242.78,123.14 L243.69,123.43 L244.61,123.72 L245.53,124.01 L246.45,124.30 L247.37,124.59 L248.29,124.87 L249.21,125.16 L250.14,125.44 L251.06,125.72 L251.98,126.00 L252.91,126.28 L253.83,126.56 L254.76,126.83 L255.68,127.11 L256.61,127.38 L257.54,127.65 L258.46,127.92 L259.39,128.19 L260.32,128.46 L261.25,128.73 L262.18,128.99 L263.11,129.26 L264.04,129.52 L264.97,129.78 L265.90,130.04 L266.83,130.30 L267.76,130.56 L268.69,130.82 L269.63,131.08 L270.56,131.33 L271.49,131.58 L272.43,131.84 L273.36,132.09 L274.30,132.34 L275.23,132.59 L276.17,132.84 L277.10,133.08 L278.04,133.33 L278.97,133.57 L279.91,133.82 L280.85,134.06 L281.79,134.30 L282.72,134.54 L283.66,134.78 L284.60,135.02 L285.54,135.26 L286.48,135.50 L287.41,135.73 L288.35,135.97 L289.29,136.20 L290.23,136.43 L291.17,136.67 L292.11,136.90 L293.05,137.13 L293.99,137.36 L294.93,137.59 L295.88,137.82 L296.82,138.04 L297.76,138.27 L298.70,138.50 L299.64,138.72 L300.58,138.95 L301.52,139.17 L302.47,139.39 L303.41,139.61 L304.35,139.83 L305.29,140.06 L306.23,140.28 L307.18,140.49 L308.12,140.71 L309.06,140.93 L310.00,141.15 L310.95,141.36 L311.89,141.58 L312.83,141.80 L313.77,142.01 L314.72,142.22 L315.66,142.44 L316.60,142.65 L317.54,142.86 L318.49,143.08 L319.43,143.29 L320.37,143.50 L321.31,143.71 L322.25,143.92 L323.20,144.13 L324.14,144.34 L325.08,144.54 L326.02,144.75 L326.96,144.96 L327.91,145.17 L328.85,145.37 L329.79,145.58 L330.73,145.79 L331.67,145.99 L332.61,146.20 L333.55,146.40 L334.49,146.61 L335.43,146.81 L336.37,147.01 L337.31,147.22 L338.25,147.42 L339.19,147.62 L340.13,147.83 L341.07,148.03 L342.01,148.23 L342.95,148.43 L343.89,148.64 L344.83,148.84 L345.76,149.04 L346.70,149.24 L347.64,149.44 L348.57,149.64 L349.51,149.84 L350.45,150.04 L351.38,150.24 L352.32,150.45 L353.25,150.65 L354.19,150.85 L355.12,151.05 L356.06,151.25 L356.99,151.45 L357.92,151.65 L358.86,151.85 L359.79,152.05 L360.72,152.25 L361.65,152.45 L362.59,152.65 L363.52,152.85 L364.45,153.05 L365.38,153.25 L366.31,153.45 L367.23,153.65 L368.16,153.85 L369.09,154.05 L370.02,154.25 L370.95,154.45 L371.87,154.65 L372.80,154.85 L373.72,155.06 L374.65,155.26" fill="none" stroke="#1438f0" stroke-width="1.45" stroke-linejoin="round"/>
<path d="M44.96,211.66 L44.97,210.69 L44.98,209.71 L45.00,208.74 L45.01,207.77 L45.03,206.80 L45.05,205.83 L45.07,204.86 L45.09,203.89 L45.11,202.92 L45.14,201.95 L45.16,200.98 L45.19,200.01 L45.22,199.04 L45.25,198.08 L45.28,197.11 L45.31,196.15 L45.35,195.18 L45.38,194.22 L45.42,193.25 L45.46,192.29 L45.50,191.32 L45.54,190.36 L45.58,189.40 L45.62,188.44 L45.67,187.48 L45.72,186.51 L45.76,185.55 L45.81,184.59 L45.86,183.63 L45.91,182.67 L45.96,181.71 L46.02,180.75 L46.07,179.79 L46.13,178.84 L46.18,177.88 L46.24,176.92 L46.30,175.96 L46.36,175.01 L46.42,174.05 L46.49,173.09 L46.55,172.13 L46.62,171.18 L46.68,170.22 L46.75,169.27 L46.82,168.31 L46.89,167.35 L46.96,166.40 L47.03,165.44 L47.10,164.49 L47.17,163.53 L47.25,162.58 L47.32,161.62 L47.40,160.67 L47.48,159.71 L47.55,158.76 L47.63,157.80 L47.71,156.85 L47.79,155.89 L47.88,154.94 L47.96,153.98 L48.04,153.03 L48.13,152.08 L48.21,151.12 L48.30,150.17 L48.39,149.21 L48.47,148.26 L48.56,147.30 L48.65,146.35 L48.74,145.39 L48.83,144.44 L48.92,143.48 L49.02,142.53 L49.11,141.57 L49.21,140.62 L49.30,139.66 L49.40,138.70 L49.49,137.75 L49.59,136.79 L49.69,135.84 L49.79,134.88 L49.89,133.92 L49.99,132.97 L50.09,132.01 L50.19,131.05 L50.29,130.09 L50.39,129.14 L50.49,128.18 L50.60,127.22 L50.70,126.26 L50.81,125.30 L50.91,124.34 L51.02,123.38 L51.13,122.42 L51.23,121.46 L51.34,120.50 L51.45,119.54 L51.56,118.58 L51.67,117.62 L51.78,116.65 L51.89,115.69 L52.01,114.73 L52.12,113.77 L52.24,112.81 L52.36,111.85 L52.49,110.89 L52.61,109.93 L52.74,108.97 L52.87,108.01 L53.01,107.05 L53.15,106.09 L53.29,105.13 L53.44,104.18 L53.59,103.22 L53.74,102.27 L53.90,101.31 L54.07,100.36 L54.24,99.41 L54.41,98.46 L54.59,97.51 L54.78,96.56 L54.97,95.62 L55.16,94.67 L55.36,93.73 L55.57,92.79 L55.79,91.85 L56.01,90.91 L56.24,89.98 L56.48,89.04 L56.72,88.11 L56.97,87.18 L57.23,86.25 L57.49,85.33 L57.77,84.41 L58.05,83.49 L58.34,82.57 L58.64,81.65 L58.95,80.74 L59.27,79.83 L59.59,78.92 L59.93,78.02 L60.28,77.11 L60.63,76.22 L61.00,75.32 L61.37,74.43 L61.76,73.54 L62.16,72.65 L62.57,71.77 L62.98,70.89 L63.41,70.01 L63.86,69.14 L64.31,68.27 L64.78,67.41 L65.27,66.57 L65.77,65.73 L66.29,64.91 L66.83,64.11 L67.38,63.33 L67.97,62.57 L68.57,61.83 L69.20,61.12 L69.86,60.44 L70.54,59.79 L71.25,59.18 L71.99,58.59 L72.76,58.05 L73.56,57.55 L74.38,57.08 L75.22,56.65 L76.09,56.26 L76.96,55.91 L77.85,55.60 L78.75,55.33 L79.66,55.09 L80.57,54.90 L81.48,54.75 L82.39,54.64 L83.30,54.56 L84.21,54.52 L85.12,54.52 L86.03,54.54 L86.94,54.61 L87.85,54.70 L88.76,54.82 L89.67,54.97 L90.58,55.14 L91.49,55.34 L92.40,55.56 L93.31,55.81 L94.22,56.08 L95.13,56.36 L96.03,56.66 L96.94,56.98 L97.85,57.32 L98.75,57.67 L99.66,58.03 L100.56,58.40 L101.47,58.78 L102.37,59.17 L103.27,59.56 L104.17,59.96 L105.07,60.36 L105.96,60.77 L106.86,61.18 L107.75,61.59 L108.65,62.00 L109.54,62.41 L110.43,62.83 L111.32,63.25 L112.21,63.68 L113.10,64.11 L113.99,64.54 L114.87,64.97 L115.76,65.41 L116.64,65.84 L117.52,66.28 L118.40,66.71 L119.28,67.15 L120.16,67.59 L121.04,68.03 L121.92,68.46 L122.80,68.90 L123.67,69.35 L124.55,69.79 L125.42,70.23 L126.29,70.67 L127.17,71.12 L128.04,71.56 L128.91,72.01 L129.78,72.45 L130.65,72.90 L131.52,73.34 L132.39,73.79 L133.25,74.24 L134.12,74.68 L134.99,75.13 L135.85,75.58 L136.72,76.03 L137.58,76.48 L138.45,76.93 L139.31,77.38 L140.17,77.83 L141.04,78.28 L141.90,78.73 L142.76,79.18 L143.62,79.63 L144.48,80.08 L145.34,80.53 L146.20,80.98 L147.06,81.43 L147.92,81.88 L148.78,82.33 L149.64,82.78 L150.50,83.23 L151.35,83.68 L152.21,84.13 L153.07,84.58 L153.93,85.03 L154.79,85.48 L155.64,85.93 L156.50,86.37 L157.36,86.82 L158.21,87.27 L159.07,87.72 L159.93,88.16 L160.78,88.60 L161.64,89.03 L162.50,89.46 L163.36,89.89 L164.21,90.32 L165.07,90.75 L165.93,91.18 L166.78,91.61 L167.64,92.04 L168.50,92.46 L169.36,92.89 L170.21,93.31 L171.07,93.74 L171.93,94.16 L172.79,94.58 L173.65,95.00 L174.51,95.43 L175.37,95.84 L176.23,96.26 L177.09,96.68 L177.95,97.10 L178.81,97.51 L179.67,97.93 L180.53,98.34 L181.39,98.75 L182.26,99.16 L183.12,99.57 L183.98,99.98 L184.85,100.39 L185.71,100.79 L186.58,101.20 L187.44,101.60 L188.31,102.00 L189.18,102.40 L190.05,102.80 L190.91,103.20 L191.78,103.59 L192.65,103.99 L193.52,104.38 L194.40,104.77 L195.27,105.16 L196.14,105.54 L197.01,105.93 L197.89,106.31 L198.77,106.70 L199.64,107.08 L200.52,107.45 L201.40,107.83 L202.28,108.20 L203.16,108.58 L204.04,108.95 L204.92,109.32 L205.80,109.68 L206.69,110.05 L207.57,110.41 L208.46,110.77 L209.34,111.13 L210.23,111.49 L211.12,111.84 L212.01,112.20 L212.90,112.55 L213.79,112.90 L214.69,113.24 L215.58,113.59 L216.48,113.93 L217.37,114.27 L218.27,114.61 L219.16,114.95 L220.06,115.29 L220.96,115.62 L221.86,115.95 L222.76,116.28 L223.66,116.61 L224.57,116.94 L225.47,117.27 L226.37,117.59 L227.28,117.91 L228.18,118.23 L229.09,118.55 L230.00,118.87 L230.91,119.18 L231.81,119.50 L232.72,119.81 L233.63,120.12 L234.55,120.43 L235.46,120.74 L236.37,121.04 L237.28,121.35 L238.20,121.65 L239.11,121.95 L240.03,122.25 L240.94,122.55 L241.86,122.84 L242.78,123.14 L243.69,123.43 L244.61,123.72 L245.53,124.01 L246.45,124.30 L247.37,124.59 L248.29,124.87 L249.21,125.16 L250.14,125.44 L251.06,125.72 L251.98,126.00 L252.91,126.28 L253.83,126.56 L254.76,126.83 L255.68,127.11 L256.61,127.38 L257.54,127.65 L258.46,127.92 L259.39,128.19 L260.32,128.46 L261.25,128.73 L262.18,128.99 L263.11,129.26 L264.04,129.52 L264.97,129.78 L265.90,130.04 L266.83,130.30 L267.76,130.56 L268.69,130.82 L269.63,131.08 L270.56,131.33 L271.49,131.58 L272.43,131.84 L273.36,132.09 L274.30,132.34 L275.23,132.59 L276.17,132.84 L277.10,133.08 L278.04,133.33 L278.97,133.57 L279.91,133.82 L280.85,134.06 L281.79,134.30 L282.72,134.54 L283.66,134.78 L284.60,135.02 L285.54,135.26 L286.48,135.50 L287.41,135.73 L288.35,135.97 L289.29,136.20 L290.23,136.43 L291.17,136.67 L292.11,136.90 L293.05,137.13 L293.99,137.36 L294.93,137.59 L295.88,137.82 L296.82,138.04 L297.76,138.27 L298.70,138.50 L299.64,138.72 L300.58,138.95 L301.52,139.17 L302.47,139.39 L303.41,139.61 L304.35,139.83 L305.29,140.06 L306.23,140.28 L307.18,140.49 L308.12,140.71 L309.06,140.93 L310.00,141.15 L310.95,141.36 L311.89,141.58 L312.83,141.80 L313.77,142.01 L314.72,142.22 L315.66,142.44 L316.60,142.65 L317.54,142.86 L318.49,143.08 L319.43,143.29 L320.37,143.50 L321.31,143.71 L322.25,143.92 L323.20,144.13 L324.14,144.34 L325.08,144.54 L326.02,144.75 L326.96,144.96 L327.91,145.17 L328.85,145.37 L329.79,145.58 L330.73,145.79 L331.67,145.99 L332.61,146.20 L333.55,146.40 L334.49,146.61 L335.43,146.81 L336.37,147.01 L337.31,147.22 L338.25,147.42 L339.19,147.62 L340.13,147.83 L341.07,148.03 L342.01,148.23 L342.95,148.43 L343.89,148.64 L344.83,148.84 L345.76,149.04 L346.70,149.24 L347.64,149.44 L348.57,149.64 L349.51,149.84 L350.45,150.04 L351.38,150.24 L352.32,150.45 L353.25,150.65 L354.19,150.85 L355.12,151.05 L356.06,151.25 L356.99,151.45 L357.92,151.65 L358.86,151.85 L359.79,152.05 L360.72,152.25 L361.65,152.45 L362.59,152.65 L363.52,152.85 L364.45,153.05 L365.38,153.25 L366.31,153.45 L367.23,153.65 L368.16,153.85 L369.09,154.05 L370.02,154.25 L370.95,154.45 L371.87,154.65 L372.80,154.85 L373.72,155.06 L374.65,155.26" fill="none" stroke="#1438f0" stroke-width="1.45" stroke-dasharray="2.8 2.6" stroke-linejoin="round"/>
<path d="M44.47,201.02 L44.48,199.96 L44.48,198.89 L44.49,197.83 L44.50,196.77 L44.52,195.70 L44.53,194.64 L44.54,193.58 L44.56,192.52 L44.58,191.45 L44.60,190.39 L44.62,189.33 L44.64,188.27 L44.66,187.21 L44.69,186.15 L44.71,185.09 L44.74,184.02 L44.77,182.96 L44.80,181.90 L44.83,180.84 L44.86,179.78 L44.90,178.72 L44.93,177.66 L44.97,176.60 L45.00,175.54 L45.04,174.48 L45.08,173.42 L45.12,172.36 L45.16,171.31 L45.21,170.25 L45.25,169.19 L45.30,168.13 L45.34,167.07 L45.39,166.01 L45.44,164.95 L45.49,163.90 L45.54,162.84 L45.59,161.78 L45.64,160.72 L45.70,159.66 L45.75,158.61 L45.81,157.55 L45.87,156.49 L45.92,155.43 L45.98,154.38 L46.04,153.32 L46.10,152.26 L46.16,151.20 L46.22,150.15 L46.29,149.09 L46.35,148.03 L46.42,146.98 L46.48,145.92 L46.55,144.87 L46.61,143.81 L46.68,142.75 L46.75,141.70 L46.82,140.64 L46.89,139.58 L46.96,138.53 L47.03,137.47 L47.10,136.42 L47.18,135.36 L47.25,134.30 L47.32,133.25 L47.40,132.19 L47.47,131.14 L47.55,130.08 L47.63,129.03 L47.70,127.97 L47.78,126.91 L47.86,125.86 L47.94,124.80 L48.02,123.75 L48.10,122.69 L48.18,121.64 L48.26,120.58 L48.34,119.53 L48.42,118.47 L48.50,117.42 L48.59,116.36 L48.67,115.30 L48.75,114.25 L48.84,113.19 L48.92,112.14 L49.01,111.08 L49.09,110.03 L49.18,108.97 L49.26,107.92 L49.35,106.86 L49.43,105.81 L49.52,104.75 L49.61,103.69 L49.69,102.64 L49.78,101.58 L49.87,100.53 L49.96,99.47 L50.04,98.42 L50.13,97.36 L50.22,96.31 L50.31,95.25 L50.40,94.19 L50.49,93.14 L50.57,92.08 L50.66,91.03 L50.75,89.97 L50.84,88.91 L50.93,87.86 L51.02,86.80 L51.11,85.74 L51.20,84.69 L51.29,83.63 L51.37,82.58 L51.46,81.52 L51.55,80.46 L51.64,79.41 L51.73,78.35 L51.82,77.29 L51.91,76.24 L52.01,75.18 L52.10,74.12 L52.20,73.07 L52.30,72.01 L52.40,70.96 L52.50,69.90 L52.61,68.84 L52.72,67.79 L52.83,66.74 L52.95,65.68 L53.07,64.63 L53.19,63.58 L53.32,62.52 L53.46,61.47 L53.60,60.42 L53.74,59.37 L53.89,58.32 L54.04,57.27 L54.20,56.22 L54.37,55.18 L54.54,54.13 L54.72,53.08 L54.91,52.04 L55.10,50.99 L55.30,49.95 L55.51,48.91 L55.73,47.87 L55.95,46.83 L56.18,45.79 L56.42,44.75 L56.67,43.71 L56.93,42.68 L57.20,41.65 L57.48,40.61 L57.77,39.58 L58.07,38.55 L58.38,37.52 L58.69,36.50 L59.02,35.47 L59.37,34.44 L59.72,33.42 L60.08,32.40 L60.46,31.38 L60.85,30.36 L61.25,29.35 L61.66,28.33 L62.09,27.32 L62.53,26.32 L62.99,25.33 L63.47,24.35 L63.97,23.40 L64.50,22.48 L65.05,21.60 L65.63,20.75 L66.25,19.94 L66.89,19.19 L67.58,18.49 L68.30,17.85 L69.06,17.27 L69.87,16.76 L70.71,16.33 L71.60,15.97 L72.53,15.68 L73.48,15.45 L74.47,15.29 L75.47,15.19 L76.49,15.14 L77.52,15.15 L78.56,15.21 L79.60,15.32 L80.64,15.47 L81.67,15.67 L82.68,15.90 L83.69,16.18 L84.67,16.48 L85.65,16.82 L86.61,17.19 L87.55,17.60 L88.48,18.03 L89.40,18.49 L90.31,18.97 L91.21,19.48 L92.10,20.02 L92.98,20.57 L93.85,21.15 L94.71,21.74 L95.57,22.35 L96.42,22.98 L97.26,23.62 L98.09,24.28 L98.92,24.94 L99.75,25.62 L100.57,26.31 L101.39,27.00 L102.21,27.70 L103.03,28.40 L103.84,29.11 L104.66,29.82 L105.47,30.52 L106.29,31.23 L107.11,31.93 L107.92,32.64 L108.74,33.34 L109.56,34.03 L110.39,34.73 L111.21,35.42 L112.03,36.11 L112.86,36.80 L113.68,37.49 L114.51,38.18 L115.34,38.86 L116.17,39.54 L117.00,40.22 L117.83,40.90 L118.66,41.58 L119.50,42.25 L120.33,42.92 L121.17,43.59 L122.01,44.26 L122.84,44.93 L123.68,45.59 L124.52,46.25 L125.37,46.91 L126.21,47.57 L127.05,48.22 L127.90,48.88 L128.74,49.53 L129.59,50.18 L130.44,50.83 L131.29,51.47 L132.14,52.12 L132.99,52.76 L133.84,53.40 L134.70,54.03 L135.55,54.67 L136.41,55.30 L137.27,55.93 L138.12,56.56 L138.98,57.19 L139.84,57.81 L140.71,58.44 L141.57,59.06 L142.43,59.68 L143.30,60.29 L144.16,60.91 L145.03,61.52 L145.90,62.13 L146.77,62.74 L147.64,63.35 L148.51,63.95 L149.38,64.56 L150.26,65.16 L151.13,65.76 L152.01,66.35 L152.89,66.95 L153.76,67.54 L154.64,68.13 L155.52,68.72 L156.41,69.30 L157.29,69.89 L158.17,70.47 L159.06,71.05 L159.94,71.63 L160.83,72.21 L161.72,72.78 L162.61,73.35 L163.50,73.92 L164.39,74.49 L165.28,75.06 L166.18,75.62 L167.07,76.18 L167.97,76.74 L168.87,77.30 L169.76,77.85 L170.66,78.41 L171.56,78.96 L172.47,79.51 L173.37,80.06 L174.27,80.60 L175.18,81.14 L176.08,81.69 L176.99,82.22 L177.90,82.76 L178.81,83.30 L179.72,83.83 L180.63,84.36 L181.54,84.89 L182.46,85.42 L183.37,85.94 L184.29,86.46 L185.21,86.98 L186.12,87.50 L187.04,88.02 L187.96,88.53 L188.88,89.04 L189.81,89.55 L190.73,90.06 L191.66,90.57 L192.58,91.07 L193.51,91.57 L194.44,92.07 L195.37,92.57 L196.30,93.07 L197.23,93.56 L198.16,94.05 L199.09,94.54 L200.03,95.03 L200.96,95.51 L201.90,96.00 L202.84,96.48 L203.78,96.96 L204.72,97.43 L205.66,97.91 L206.60,98.38 L207.54,98.85 L208.49,99.32 L209.43,99.78 L210.38,100.25 L211.33,100.71 L212.28,101.17 L213.23,101.63 L214.18,102.09 L215.13,102.54 L216.09,102.99 L217.04,103.44 L217.99,103.89 L218.95,104.33 L219.91,104.78 L220.87,105.22 L221.83,105.66 L222.79,106.09 L223.75,106.53 L224.71,106.96 L225.68,107.39 L226.64,107.82 L227.61,108.25 L228.58,108.67 L229.55,109.09 L230.52,109.51 L231.49,109.93 L232.46,110.35 L233.43,110.76 L234.41,111.17 L235.38,111.58 L236.36,111.99 L237.33,112.40 L238.31,112.80 L239.29,113.20 L240.27,113.60 L241.25,114.00 L242.24,114.39 L243.22,114.79 L244.20,115.18 L245.19,115.57 L246.18,115.95 L247.16,116.34 L248.15,116.72 L249.14,117.10 L250.13,117.48 L251.12,117.86 L252.11,118.23 L253.11,118.61 L254.10,118.98 L255.10,119.35 L256.09,119.72 L257.09,120.08 L258.08,120.45 L259.08,120.81 L260.08,121.17 L261.08,121.52 L262.08,121.88 L263.08,122.24 L264.09,122.59 L265.09,122.94 L266.09,123.29 L267.10,123.63 L268.10,123.98 L269.11,124.32 L270.11,124.66 L271.12,125.00 L272.13,125.34 L273.14,125.68 L274.15,126.01 L275.16,126.34 L276.17,126.68 L277.18,127.00 L278.19,127.33 L279.20,127.66 L280.22,127.98 L281.23,128.30 L282.25,128.63 L283.26,128.94 L284.28,129.26 L285.29,129.58 L286.31,129.89 L287.33,130.20 L288.34,130.51 L289.36,130.82 L290.38,131.13 L291.40,131.44 L292.42,131.74 L293.44,132.04 L294.46,132.34 L295.48,132.64 L296.50,132.94 L297.53,133.24 L298.55,133.53 L299.57,133.83 L300.60,134.12 L301.62,134.41 L302.64,134.70 L303.67,134.98 L304.69,135.27 L305.72,135.55 L306.74,135.84 L307.77,136.12 L308.80,136.40 L309.82,136.67 L310.85,136.95 L311.88,137.23 L312.90,137.50 L313.93,137.77 L314.96,138.04 L315.99,138.31 L317.02,138.58 L318.05,138.85 L319.07,139.11 L320.10,139.38 L321.13,139.64 L322.16,139.90 L323.19,140.16 L324.22,140.42 L325.25,140.68 L326.28,140.94 L327.31,141.19 L328.34,141.44 L329.37,141.70 L330.41,141.95 L331.44,142.20 L332.47,142.45 L333.50,142.69 L334.53,142.94 L335.56,143.18 L336.59,143.43 L337.62,143.67 L338.65,143.91 L339.68,144.15 L340.72,144.39 L341.75,144.63 L342.78,144.86 L343.81,145.10 L344.84,145.33 L345.87,145.56 L346.90,145.80 L347.93,146.03 L348.96,146.26 L350.00,146.48 L351.03,146.71 L352.06,146.94 L353.09,147.16 L354.12,147.39 L355.15,147.61 L356.18,147.83 L357.21,148.05 L358.24,148.27 L359.27,148.49 L360.30,148.71 L361.32,148.92 L362.35,149.14 L363.38,149.36 L364.41,149.57 L365.44,149.78 L366.47,149.99 L367.49,150.20 L368.52,150.41 L369.55,150.62 L370.58,150.83 L371.60,151.04 L372.63,151.24 L373.65,151.45 L374.68,151.65" fill="none" stroke="#f01818" stroke-width="1.45" stroke-linejoin="round"/>
<path d="M44.47,200.72 L44.48,199.66 L44.48,198.59 L44.49,197.53 L44.50,196.47 L44.52,195.40 L44.53,194.34 L44.54,193.28 L44.56,192.22 L44.58,191.15 L44.60,190.09 L44.62,189.03 L44.64,187.97 L44.66,186.91 L44.69,185.85 L44.71,184.79 L44.74,183.72 L44.77,182.66 L44.80,181.60 L44.83,180.54 L44.86,179.48 L44.90,178.42 L44.93,177.36 L44.97,176.30 L45.00,175.24 L45.04,174.18 L45.08,173.12 L45.12,172.06 L45.16,171.01 L45.21,169.95 L45.25,168.89 L45.30,167.83 L45.34,166.77 L45.39,165.71 L45.44,164.65 L45.49,163.60 L45.54,162.54 L45.59,161.48 L45.64,160.42 L45.70,159.36 L45.75,158.31 L45.81,157.25 L45.87,156.19 L45.92,155.13 L45.98,154.08 L46.04,153.02 L46.10,151.96 L46.16,150.90 L46.22,149.85 L46.29,148.79 L46.35,147.73 L46.42,146.68 L46.48,145.62 L46.55,144.57 L46.61,143.51 L46.68,142.45 L46.75,141.40 L46.82,140.34 L46.89,139.28 L46.96,138.23 L47.03,137.17 L47.10,136.12 L47.18,135.06 L47.25,134.00 L47.32,132.95 L47.40,131.89 L47.47,130.84 L47.55,129.78 L47.63,128.73 L47.70,127.67 L47.78,126.61 L47.86,125.56 L47.94,124.50 L48.02,123.45 L48.10,122.39 L48.18,121.34 L48.26,120.28 L48.34,119.23 L48.42,118.17 L48.50,117.12 L48.59,116.06 L48.67,115.00 L48.75,113.95 L48.84,112.89 L48.92,111.84 L49.01,110.78 L49.09,109.73 L49.18,108.67 L49.26,107.62 L49.35,106.56 L49.43,105.51 L49.52,104.45 L49.61,103.39 L49.69,102.34 L49.78,101.28 L49.87,100.23 L49.96,99.17 L50.04,98.12 L50.13,97.06 L50.22,96.01 L50.31,94.95 L50.40,93.89 L50.49,92.84 L50.57,91.78 L50.66,90.73 L50.75,89.67 L50.84,88.61 L50.93,87.56 L51.02,86.50 L51.11,85.44 L51.20,84.39 L51.29,83.33 L51.37,82.28 L51.46,81.22 L51.55,80.16 L51.64,79.11 L51.73,78.05 L51.82,76.99 L51.91,75.94 L52.01,74.88 L52.10,73.82 L52.20,72.77 L52.30,71.71 L52.40,70.66 L52.50,69.60 L52.61,68.54 L52.72,67.49 L52.83,66.44 L52.95,65.38 L53.07,64.33 L53.19,63.28 L53.32,62.22 L53.46,61.17 L53.60,60.12 L53.74,59.07 L53.89,58.02 L54.04,56.97 L54.20,55.92 L54.37,54.88 L54.54,53.83 L54.72,52.78 L54.91,51.74 L55.10,50.69 L55.30,49.65 L55.51,48.61 L55.73,47.57 L55.95,46.53 L56.18,45.49 L56.42,44.45 L56.67,43.41 L56.93,42.38 L57.20,41.35 L57.48,40.31 L57.77,39.28 L58.07,38.25 L58.38,37.22 L58.69,36.20 L59.02,35.17 L59.37,34.14 L59.72,33.12 L60.08,32.10 L60.46,31.08 L60.85,30.06 L61.25,29.05 L61.66,28.03 L62.09,27.02 L62.53,26.02 L62.99,25.03 L63.47,24.05 L63.97,23.10 L64.50,22.18 L65.05,21.30 L65.63,20.45 L66.25,19.64 L66.89,18.89 L67.58,18.19 L68.30,17.55 L69.06,16.97 L69.87,16.46 L70.71,16.03 L71.60,15.67 L72.53,15.38 L73.48,15.15 L74.47,14.99 L75.47,14.89 L76.49,14.84 L77.52,14.85 L78.56,14.91 L79.60,15.02 L80.64,15.17 L81.67,15.37 L82.68,15.60 L83.69,15.88 L84.67,16.18 L85.65,16.52 L86.61,16.89 L87.55,17.30 L88.48,17.73 L89.40,18.19 L90.31,18.67 L91.21,19.18 L92.10,19.72 L92.98,20.27 L93.85,20.85 L94.71,21.44 L95.57,22.05 L96.42,22.68 L97.26,23.32 L98.09,23.98 L98.92,24.64 L99.75,25.32 L100.57,26.01 L101.39,26.70 L102.21,27.40 L103.03,28.10 L103.84,28.81 L104.66,29.52 L105.47,30.22 L106.29,30.93 L107.11,31.63 L107.92,32.34 L108.74,33.04 L109.56,33.73 L110.39,34.43 L111.21,35.12 L112.03,35.81 L112.86,36.50 L113.68,37.19 L114.51,37.88 L115.34,38.56 L116.17,39.24 L117.00,39.92 L117.83,40.60 L118.66,41.28 L119.50,41.95 L120.33,42.62 L121.17,43.29 L122.01,43.96 L122.84,44.63 L123.68,45.29 L124.52,45.95 L125.37,46.61 L126.21,47.27 L127.05,47.92 L127.90,48.58 L128.74,49.23 L129.59,49.88 L130.44,50.53 L131.29,51.17 L132.14,51.82 L132.99,52.46 L133.84,53.10 L134.70,53.73 L135.55,54.37 L136.41,55.00 L137.27,55.63 L138.12,56.26 L138.98,56.89 L139.84,57.51 L140.71,58.14 L141.57,58.76 L142.43,59.38 L143.30,59.99 L144.16,60.61 L145.03,61.22 L145.90,61.83 L146.77,62.44 L147.64,63.05 L148.51,63.65 L149.38,64.26 L150.26,64.86 L151.13,65.46 L152.01,66.05 L152.89,66.65 L153.76,67.24 L154.64,67.83 L155.52,68.42 L156.41,69.00 L157.29,69.59 L158.17,70.17 L159.06,70.75 L159.94,71.33 L160.83,71.91 L161.72,72.48 L162.61,73.05 L163.50,73.62 L164.39,74.19 L165.28,74.76 L166.18,75.32 L167.07,75.88 L167.97,76.44 L168.87,77.00 L169.76,77.55 L170.66,78.11 L171.56,78.66 L172.47,79.21 L173.37,79.76 L174.27,80.30 L175.18,80.84 L176.08,81.39 L176.99,81.92 L177.90,82.46 L178.81,83.00 L179.72,83.53 L180.63,84.06 L181.54,84.59 L182.46,85.12 L183.37,85.64 L184.29,86.16 L185.21,86.68 L186.12,87.20 L187.04,87.72 L187.96,88.23 L188.88,88.74 L189.81,89.25 L190.73,89.76 L191.66,90.27 L192.58,90.77 L193.51,91.27 L194.44,91.77 L195.37,92.27 L196.30,92.77 L197.23,93.26 L198.16,93.75 L199.09,94.24 L200.03,94.73 L200.96,95.21 L201.90,95.70 L202.84,96.18 L203.78,96.66 L204.72,97.13 L205.66,97.61 L206.60,98.08 L207.54,98.55 L208.49,99.02 L209.43,99.48 L210.38,99.95 L211.33,100.41 L212.28,100.87 L213.23,101.33 L214.18,101.79 L215.13,102.24 L216.09,102.69 L217.04,103.14 L217.99,103.59 L218.95,104.03 L219.91,104.48 L220.87,104.92 L221.83,105.36 L222.79,105.79 L223.75,106.23 L224.71,106.66 L225.68,107.09 L226.64,107.52 L227.61,107.95 L228.58,108.37 L229.55,108.79 L230.52,109.21 L231.49,109.63 L232.46,110.05 L233.43,110.46 L234.41,110.87 L235.38,111.28 L236.36,111.69 L237.33,112.10 L238.31,112.50 L239.29,112.90 L240.27,113.30 L241.25,113.70 L242.24,114.09 L243.22,114.49 L244.20,114.88 L245.19,115.27 L246.18,115.65 L247.16,116.04 L248.15,116.42 L249.14,116.80 L250.13,117.18 L251.12,117.56 L252.11,117.93 L253.11,118.31 L254.10,118.68 L255.10,119.05 L256.09,119.42 L257.09,119.78 L258.08,120.15 L259.08,120.51 L260.08,120.87 L261.08,121.22 L262.08,121.58 L263.08,121.94 L264.09,122.29 L265.09,122.64 L266.09,122.99 L267.10,123.33 L268.10,123.68 L269.11,124.02 L270.11,124.36 L271.12,124.70 L272.13,125.04 L273.14,125.38 L274.15,125.71 L275.16,126.04 L276.17,126.38 L277.18,126.70 L278.19,127.03 L279.20,127.36 L280.22,127.68 L281.23,128.00 L282.25,128.33 L283.26,128.64 L284.28,128.96 L285.29,129.28 L286.31,129.59 L287.33,129.90 L288.34,130.21 L289.36,130.52 L290.38,130.83 L291.40,131.14 L292.42,131.44 L293.44,131.74 L294.46,132.04 L295.48,132.34 L296.50,132.64 L297.53,132.94 L298.55,133.23 L299.57,133.53 L300.60,133.82 L301.62,134.11 L302.64,134.40 L303.67,134.68 L304.69,134.97 L305.72,135.25 L306.74,135.54 L307.77,135.82 L308.80,136.10 L309.82,136.37 L310.85,136.65 L311.88,136.93 L312.90,137.20 L313.93,137.47 L314.96,137.74 L315.99,138.01 L317.02,138.28 L318.05,138.55 L319.07,138.81 L320.10,139.08 L321.13,139.34 L322.16,139.60 L323.19,139.86 L324.22,140.12 L325.25,140.38 L326.28,140.64 L327.31,140.89 L328.34,141.14 L329.37,141.40 L330.41,141.65 L331.44,141.90 L332.47,142.15 L333.50,142.39 L334.53,142.64 L335.56,142.88 L336.59,143.13 L337.62,143.37 L338.65,143.61 L339.68,143.85 L340.72,144.09 L341.75,144.33 L342.78,144.56 L343.81,144.80 L344.84,145.03 L345.87,145.26 L346.90,145.50 L347.93,145.73 L348.96,145.96 L350.00,146.18 L351.03,146.41 L352.06,146.64 L353.09,146.86 L354.12,147.09 L355.15,147.31 L356.18,147.53 L357.21,147.75 L358.24,147.97 L359.27,148.19 L360.30,148.41 L361.32,148.62 L362.35,148.84 L363.38,149.06 L364.41,149.27 L365.44,149.48 L366.47,149.69 L367.49,149.90 L368.52,150.11 L369.55,150.32 L370.58,150.53 L371.60,150.74 L372.63,150.94 L373.65,151.15 L374.68,151.35" fill="none" stroke="#f01818" stroke-width="1.45" stroke-dasharray="2.8 2.6" stroke-linejoin="round"/>
<path d="M44.39,231.24 L44.47,230.56 L44.56,229.87 L44.65,229.18 L44.74,228.49 L44.83,227.78 L44.92,227.08 L45.01,226.37 L45.10,225.65 L45.20,224.93 L45.29,224.21 L45.39,223.48 L45.49,222.75 L45.60,222.02 L45.71,221.29 L45.82,220.55 L45.93,219.81 L46.05,219.07 L46.17,218.33 L46.29,217.59 L46.42,216.84 L46.56,216.10 L46.69,215.35 L46.84,214.61 L46.99,213.86 L47.14,213.12 L47.30,212.37 L47.46,211.63 L47.64,210.89 L47.81,210.15 L48.00,209.41 L48.19,208.67 L48.38,207.94 L48.59,207.21 L48.80,206.48 L49.02,205.75 L49.25,205.03 L49.48,204.31 L49.73,203.60 L49.98,202.89 L50.24,202.18 L50.51,201.48 L50.78,200.79 L51.07,200.10 L51.37,199.41 L51.67,198.73 L51.99,198.06 L52.32,197.39 L52.65,196.73 L53.00,196.08 L53.35,195.43 L53.71,194.79 L54.09,194.16 L54.47,193.53 L54.86,192.91 L55.26,192.30 L55.66,191.70 L56.08,191.10 L56.51,190.51 L56.94,189.93 L57.38,189.36 L57.83,188.79 L58.29,188.24 L58.76,187.69 L59.24,187.15 L59.72,186.62 L60.21,186.10 L60.72,185.59 L61.22,185.09 L61.74,184.59 L62.26,184.11 L62.80,183.64 L63.34,183.17 L63.88,182.72 L64.44,182.27 L65.00,181.84 L65.57,181.42 L66.15,181.01 L66.73,180.61 L67.33,180.22 L67.93,179.84 L68.53,179.47 L69.14,179.11 L69.76,178.77 L70.39,178.43 L71.03,178.11 L71.67,177.80 L72.31,177.51 L72.97,177.22 L73.63,176.95 L74.29,176.69 L74.96,176.44 L75.64,176.21 L76.33,175.98 L77.02,175.77 L77.71,175.57 L78.41,175.38 L79.12,175.20 L79.83,175.03 L80.54,174.88 L81.26,174.73 L81.98,174.59 L82.71,174.46 L83.43,174.33 L84.17,174.22 L84.90,174.12 L85.64,174.02 L86.38,173.93 L87.12,173.85 L87.86,173.77 L88.61,173.70 L89.35,173.64 L90.10,173.58 L90.85,173.53 L91.60,173.48 L92.35,173.44 L93.10,173.41 L93.85,173.38 L94.59,173.35 L95.34,173.32 L96.09,173.30 L96.84,173.29 L97.59,173.28 L98.33,173.27 L99.08,173.26 L99.82,173.26 L100.57,173.26 L101.32,173.27 L102.06,173.28 L102.80,173.29 L103.55,173.30 L104.29,173.32 L105.03,173.34 L105.78,173.37 L106.52,173.39 L107.26,173.42 L108.00,173.46 L108.74,173.49 L109.48,173.53 L110.22,173.57 L110.96,173.62 L111.70,173.66 L112.44,173.71 L113.18,173.76 L113.92,173.82 L114.66,173.87 L115.40,173.93 L116.14,173.99 L116.87,174.05 L117.61,174.12 L118.35,174.18 L119.09,174.25 L119.82,174.32 L120.56,174.39 L121.29,174.47 L122.03,174.54 L122.77,174.62 L123.50,174.70 L124.24,174.78 L124.97,174.86 L125.71,174.94 L126.44,175.02 L127.18,175.11 L127.91,175.19 L128.65,175.28 L129.38,175.37 L130.11,175.46 L130.85,175.55 L131.58,175.64 L132.32,175.73 L133.05,175.82 L133.78,175.92 L134.52,176.01 L135.25,176.11 L135.98,176.20 L136.72,176.30 L137.45,176.39 L138.18,176.49 L138.91,176.58 L139.65,176.68 L140.38,176.77 L141.11,176.87 L141.85,176.97 L142.58,177.06 L143.31,177.16 L144.04,177.26 L144.78,177.35 L145.51,177.45 L146.24,177.54 L146.98,177.64 L147.71,177.73 L148.44,177.82 L149.17,177.92 L149.91,178.01 L150.64,178.10 L151.37,178.20 L152.10,178.29 L152.84,178.38 L153.57,178.47 L154.30,178.57 L155.04,178.66 L155.77,178.75 L156.50,178.84 L157.24,178.93 L157.97,179.02 L158.70,179.11 L159.43,179.20 L160.17,179.29 L160.90,179.38 L161.63,179.46 L162.37,179.55 L163.10,179.64 L163.83,179.73 L164.57,179.82 L165.30,179.90 L166.03,179.99 L166.76,180.08 L167.50,180.16 L168.23,180.25 L168.96,180.33 L169.70,180.42 L170.43,180.50 L171.16,180.59 L171.90,180.67 L172.63,180.76 L173.36,180.84 L174.10,180.93 L174.83,181.01 L175.56,181.09 L176.30,181.18 L177.03,181.26 L177.76,181.34 L178.50,181.42 L179.23,181.50 L179.96,181.59 L180.70,181.67 L181.43,181.75 L182.16,181.83 L182.90,181.91 L183.63,181.99 L184.36,182.07 L185.10,182.15 L185.83,182.23 L186.56,182.31 L187.30,182.39 L188.03,182.47 L188.76,182.54 L189.50,182.62 L190.23,182.70 L190.96,182.78 L191.70,182.85 L192.43,182.93 L193.16,183.01 L193.90,183.09 L194.63,183.16 L195.36,183.24 L196.10,183.31 L196.83,183.39 L197.56,183.46 L198.30,183.54 L199.03,183.61 L199.77,183.69 L200.50,183.76 L201.23,183.84 L201.97,183.91 L202.70,183.99 L203.43,184.06 L204.17,184.13 L204.90,184.20 L205.64,184.28 L206.37,184.35 L207.10,184.42 L207.84,184.49 L208.57,184.57 L209.30,184.64 L210.04,184.71 L210.77,184.78 L211.51,184.85 L212.24,184.92 L212.97,184.99 L213.71,185.06 L214.44,185.13 L215.17,185.20 L215.91,185.27 L216.64,185.34 L217.38,185.41 L218.11,185.48 L218.84,185.55 L219.58,185.61 L220.31,185.68 L221.05,185.75 L221.78,185.82 L222.51,185.89 L223.25,185.95 L223.98,186.02 L224.72,186.09 L225.45,186.15 L226.19,186.22 L226.92,186.29 L227.65,186.35 L228.39,186.42 L229.12,186.48 L229.86,186.55 L230.59,186.61 L231.32,186.68 L232.06,186.74 L232.79,186.81 L233.53,186.87 L234.26,186.94 L235.00,187.00 L235.73,187.06 L236.46,187.13 L237.20,187.19 L237.93,187.25 L238.67,187.32 L239.40,187.38 L240.14,187.44 L240.87,187.51 L241.60,187.57 L242.34,187.63 L243.07,187.69 L243.81,187.75 L244.54,187.81 L245.28,187.88 L246.01,187.94 L246.75,188.00 L247.48,188.06 L248.22,188.12 L248.95,188.18 L249.68,188.24 L250.42,188.30 L251.15,188.36 L251.89,188.42 L252.62,188.48 L253.36,188.54 L254.09,188.60 L254.83,188.66 L255.56,188.71 L256.30,188.77 L257.03,188.83 L257.77,188.89 L258.50,188.95 L259.24,189.01 L259.97,189.06 L260.71,189.12 L261.44,189.18 L262.17,189.24 L262.91,189.29 L263.64,189.35 L264.38,189.41 L265.11,189.46 L265.85,189.52 L266.58,189.58 L267.32,189.63 L268.05,189.69 L268.79,189.74 L269.52,189.80 L270.26,189.86 L270.99,189.91 L271.73,189.97 L272.46,190.02 L273.20,190.08 L273.93,190.13 L274.67,190.18 L275.40,190.24 L276.14,190.29 L276.87,190.35 L277.61,190.40 L278.35,190.46 L279.08,190.51 L279.82,190.56 L280.55,190.62 L281.29,190.67 L282.02,190.72 L282.76,190.78 L283.49,190.83 L284.23,190.88 L284.96,190.93 L285.70,190.99 L286.43,191.04 L287.17,191.09 L287.90,191.14 L288.64,191.20 L289.38,191.25 L290.11,191.30 L290.85,191.35 L291.58,191.40 L292.32,191.45 L293.05,191.50 L293.79,191.56 L294.52,191.61 L295.26,191.66 L295.99,191.71 L296.73,191.76 L297.47,191.81 L298.20,191.86 L298.94,191.91 L299.67,191.96 L300.41,192.01 L301.14,192.06 L301.88,192.11 L302.62,192.16 L303.35,192.21 L304.09,192.26 L304.82,192.31 L305.56,192.36 L306.29,192.41 L307.03,192.45 L307.77,192.50 L308.50,192.55 L309.24,192.60 L309.97,192.65 L310.71,192.70 L311.45,192.75 L312.18,192.79 L312.92,192.84 L313.65,192.89 L314.39,192.94 L315.13,192.99 L315.86,193.03 L316.60,193.08 L317.33,193.13 L318.07,193.18 L318.81,193.22 L319.54,193.27 L320.28,193.32 L321.02,193.37 L321.75,193.41 L322.49,193.46 L323.22,193.51 L323.96,193.55 L324.70,193.60 L325.43,193.65 L326.17,193.69 L326.91,193.74 L327.64,193.79 L328.38,193.83 L329.11,193.88 L329.85,193.93 L330.59,193.97 L331.32,194.02 L332.06,194.06 L332.80,194.11 L333.53,194.15 L334.27,194.20 L335.01,194.25 L335.74,194.29 L336.48,194.34 L337.22,194.38 L337.95,194.43 L338.69,194.47 L339.43,194.52 L340.16,194.56 L340.90,194.61 L341.64,194.65 L342.37,194.70 L343.11,194.74 L343.85,194.79 L344.58,194.83 L345.32,194.88 L346.06,194.92 L346.79,194.97 L347.53,195.01 L348.27,195.06 L349.00,195.10 L349.74,195.15 L350.48,195.19 L351.21,195.23 L351.95,195.28 L352.69,195.32 L353.43,195.37 L354.16,195.41 L354.90,195.45 L355.64,195.50 L356.37,195.54 L357.11,195.59 L357.85,195.63 L358.59,195.67 L359.32,195.72 L360.06,195.76 L360.80,195.81 L361.53,195.85 L362.27,195.89 L363.01,195.94 L363.75,195.98 L364.48,196.02 L365.22,196.07 L365.96,196.11 L366.70,196.15 L367.43,196.20 L368.17,196.24 L368.91,196.28 L369.65,196.33 L370.38,196.37 L371.12,196.41 L371.86,196.46 L372.60,196.50 L373.33,196.54 L374.07,196.59 L374.81,196.63" fill="none" stroke="#141414" stroke-width="1.45" stroke-linejoin="round"/>
<path d="M44.24,231.16 L44.35,230.48 L44.46,229.79 L44.57,229.10 L44.68,228.41 L44.78,227.71 L44.89,227.00 L45.00,226.29 L45.11,225.58 L45.22,224.87 L45.33,224.15 L45.44,223.43 L45.56,222.71 L45.67,221.98 L45.79,221.25 L45.91,220.52 L46.03,219.79 L46.15,219.06 L46.28,218.32 L46.41,217.59 L46.54,216.85 L46.68,216.11 L46.82,215.37 L46.96,214.64 L47.11,213.90 L47.27,213.16 L47.42,212.42 L47.59,211.68 L47.76,210.95 L47.93,210.21 L48.11,209.48 L48.30,208.75 L48.49,208.01 L48.69,207.29 L48.89,206.56 L49.11,205.83 L49.33,205.11 L49.55,204.39 L49.79,203.68 L50.03,202.96 L50.28,202.25 L50.54,201.55 L50.81,200.85 L51.09,200.15 L51.38,199.46 L51.67,198.77 L51.98,198.08 L52.29,197.40 L52.62,196.73 L52.95,196.06 L53.29,195.39 L53.64,194.74 L54.00,194.08 L54.37,193.44 L54.75,192.80 L55.14,192.16 L55.53,191.54 L55.93,190.92 L56.34,190.30 L56.76,189.70 L57.19,189.10 L57.63,188.51 L58.07,187.92 L58.52,187.35 L58.98,186.78 L59.45,186.22 L59.93,185.67 L60.41,185.13 L60.90,184.60 L61.40,184.07 L61.91,183.56 L62.42,183.05 L62.94,182.56 L63.47,182.07 L64.01,181.60 L64.55,181.13 L65.10,180.68 L65.66,180.23 L66.22,179.80 L66.80,179.38 L67.37,178.97 L67.96,178.57 L68.55,178.18 L69.15,177.80 L69.75,177.44 L70.36,177.08 L70.98,176.74 L71.61,176.42 L72.24,176.10 L72.87,175.80 L73.52,175.51 L74.16,175.24 L74.82,174.97 L75.48,174.73 L76.14,174.49 L76.82,174.27 L77.49,174.05 L78.18,173.85 L78.86,173.67 L79.55,173.49 L80.25,173.32 L80.95,173.17 L81.66,173.03 L82.37,172.89 L83.08,172.77 L83.80,172.66 L84.52,172.55 L85.25,172.46 L85.98,172.37 L86.71,172.29 L87.45,172.22 L88.19,172.16 L88.93,172.11 L89.67,172.07 L90.42,172.03 L91.17,172.00 L91.92,171.97 L92.68,171.95 L93.43,171.94 L94.19,171.94 L94.95,171.94 L95.71,171.94 L96.47,171.95 L97.24,171.97 L98.00,171.99 L98.77,172.01 L99.54,172.04 L100.30,172.07 L101.07,172.11 L101.84,172.15 L102.61,172.19 L103.38,172.23 L104.15,172.28 L104.91,172.33 L105.68,172.38 L106.45,172.43 L107.22,172.49 L107.98,172.54 L108.75,172.60 L109.51,172.65 L110.27,172.71 L111.04,172.77 L111.80,172.82 L112.55,172.88 L113.31,172.94 L114.07,173.00 L114.82,173.05 L115.58,173.11 L116.33,173.17 L117.08,173.23 L117.84,173.29 L118.59,173.35 L119.34,173.41 L120.08,173.47 L120.83,173.53 L121.58,173.59 L122.32,173.65 L123.07,173.71 L123.81,173.78 L124.56,173.84 L125.30,173.90 L126.04,173.96 L126.78,174.02 L127.52,174.09 L128.26,174.15 L129.00,174.21 L129.74,174.28 L130.48,174.34 L131.21,174.40 L131.95,174.47 L132.68,174.53 L133.42,174.60 L134.15,174.66 L134.89,174.73 L135.62,174.79 L136.35,174.86 L137.09,174.92 L137.82,174.99 L138.55,175.05 L139.28,175.12 L140.01,175.18 L140.74,175.25 L141.47,175.32 L142.20,175.38 L142.93,175.45 L143.66,175.51 L144.39,175.58 L145.11,175.65 L145.84,175.71 L146.57,175.78 L147.30,175.85 L148.03,175.92 L148.75,175.98 L149.48,176.05 L150.21,176.12 L150.94,176.18 L151.66,176.25 L152.39,176.32 L153.12,176.39 L153.84,176.45 L154.57,176.52 L155.30,176.59 L156.02,176.66 L156.75,176.72 L157.48,176.79 L158.21,176.86 L158.93,176.93 L159.66,176.99 L160.39,177.06 L161.12,177.13 L161.84,177.20 L162.57,177.27 L163.30,177.33 L164.03,177.40 L164.76,177.47 L165.49,177.54 L166.22,177.60 L166.94,177.67 L167.67,177.74 L168.40,177.81 L169.13,177.87 L169.86,177.94 L170.59,178.01 L171.32,178.08 L172.05,178.14 L172.78,178.21 L173.51,178.28 L174.24,178.35 L174.97,178.41 L175.71,178.48 L176.44,178.55 L177.17,178.62 L177.90,178.68 L178.63,178.75 L179.36,178.82 L180.09,178.89 L180.83,178.95 L181.56,179.02 L182.29,179.09 L183.02,179.16 L183.75,179.22 L184.49,179.29 L185.22,179.36 L185.95,179.43 L186.68,179.49 L187.42,179.56 L188.15,179.63 L188.88,179.69 L189.62,179.76 L190.35,179.83 L191.08,179.90 L191.82,179.96 L192.55,180.03 L193.29,180.10 L194.02,180.16 L194.75,180.23 L195.49,180.30 L196.22,180.36 L196.96,180.43 L197.69,180.50 L198.43,180.56 L199.16,180.63 L199.90,180.70 L200.63,180.76 L201.37,180.83 L202.10,180.90 L202.84,180.96 L203.57,181.03 L204.31,181.10 L205.04,181.16 L205.78,181.23 L206.51,181.30 L207.25,181.36 L207.99,181.43 L208.72,181.50 L209.46,181.56 L210.19,181.63 L210.93,181.69 L211.67,181.76 L212.40,181.83 L213.14,181.89 L213.88,181.96 L214.61,182.03 L215.35,182.09 L216.09,182.16 L216.82,182.22 L217.56,182.29 L218.30,182.35 L219.04,182.42 L219.77,182.49 L220.51,182.55 L221.25,182.62 L221.99,182.68 L222.72,182.75 L223.46,182.81 L224.20,182.88 L224.94,182.94 L225.67,183.01 L226.41,183.07 L227.15,183.14 L227.89,183.20 L228.63,183.27 L229.36,183.33 L230.10,183.40 L230.84,183.46 L231.58,183.53 L232.32,183.59 L233.06,183.66 L233.80,183.72 L234.53,183.79 L235.27,183.85 L236.01,183.92 L236.75,183.98 L237.49,184.04 L238.23,184.11 L238.97,184.17 L239.71,184.24 L240.45,184.30 L241.18,184.36 L241.92,184.43 L242.66,184.49 L243.40,184.56 L244.14,184.62 L244.88,184.68 L245.62,184.75 L246.36,184.81 L247.10,184.87 L247.84,184.94 L248.58,185.00 L249.32,185.06 L250.06,185.13 L250.80,185.19 L251.54,185.25 L252.28,185.32 L253.02,185.38 L253.76,185.44 L254.50,185.50 L255.24,185.57 L255.98,185.63 L256.72,185.69 L257.46,185.75 L258.20,185.82 L258.94,185.88 L259.68,185.94 L260.42,186.00 L261.16,186.06 L261.90,186.13 L262.64,186.19 L263.38,186.25 L264.12,186.31 L264.86,186.37 L265.60,186.43 L266.34,186.50 L267.08,186.56 L267.82,186.62 L268.56,186.68 L269.30,186.74 L270.04,186.80 L270.78,186.86 L271.52,186.92 L272.26,186.98 L273.00,187.04 L273.74,187.10 L274.48,187.16 L275.22,187.22 L275.96,187.28 L276.70,187.35 L277.44,187.41 L278.18,187.46 L278.92,187.52 L279.66,187.58 L280.40,187.64 L281.14,187.70 L281.88,187.76 L282.62,187.82 L283.36,187.88 L284.10,187.94 L284.84,188.00 L285.58,188.06 L286.32,188.12 L287.06,188.18 L287.80,188.23 L288.54,188.29 L289.28,188.35 L290.02,188.41 L290.76,188.47 L291.50,188.53 L292.24,188.58 L292.98,188.64 L293.72,188.70 L294.46,188.76 L295.20,188.81 L295.94,188.87 L296.68,188.93 L297.42,188.99 L298.16,189.04 L298.90,189.10 L299.64,189.16 L300.38,189.21 L301.12,189.27 L301.86,189.33 L302.60,189.38 L303.34,189.44 L304.08,189.50 L304.82,189.55 L305.56,189.61 L306.30,189.66 L307.04,189.72 L307.78,189.78 L308.52,189.83 L309.25,189.89 L309.99,189.94 L310.73,190.00 L311.47,190.05 L312.21,190.11 L312.95,190.16 L313.69,190.22 L314.43,190.27 L315.17,190.32 L315.91,190.38 L316.64,190.43 L317.38,190.49 L318.12,190.54 L318.86,190.59 L319.60,190.65 L320.34,190.70 L321.07,190.75 L321.81,190.81 L322.55,190.86 L323.29,190.91 L324.03,190.97 L324.77,191.02 L325.50,191.07 L326.24,191.12 L326.98,191.18 L327.72,191.23 L328.45,191.28 L329.19,191.33 L329.93,191.38 L330.67,191.44 L331.40,191.49 L332.14,191.54 L332.88,191.59 L333.62,191.64 L334.35,191.69 L335.09,191.74 L335.83,191.79 L336.56,191.84 L337.30,191.89 L338.04,191.94 L338.77,191.99 L339.51,192.04 L340.25,192.09 L340.98,192.14 L341.72,192.19 L342.46,192.24 L343.19,192.29 L343.93,192.34 L344.66,192.39 L345.40,192.44 L346.13,192.49 L346.87,192.53 L347.61,192.58 L348.34,192.63 L349.08,192.68 L349.81,192.73 L350.55,192.77 L351.28,192.82 L352.02,192.87 L352.75,192.91 L353.49,192.96 L354.22,193.01 L354.95,193.06 L355.69,193.10 L356.42,193.15 L357.16,193.19 L357.89,193.24 L358.62,193.29 L359.36,193.33 L360.09,193.38 L360.83,193.42 L361.56,193.47 L362.29,193.51 L363.03,193.56 L363.76,193.60 L364.49,193.65 L365.22,193.69 L365.96,193.74 L366.69,193.78 L367.42,193.82 L368.15,193.87 L368.89,193.91 L369.62,193.95 L370.35,194.00 L371.08,194.04 L371.81,194.08 L372.54,194.13 L373.28,194.17 L374.01,194.21 L374.74,194.25" fill="none" stroke="#2a2a2a" stroke-width="1.0" stroke-dasharray="1 1.3" stroke-linejoin="round"/>
</g>
<defs><clipPath id="c"><rect x="43.4" y="7.0" width="331.6" height="235.0"/></clipPath></defs>
<rect x="313.5" y="9.5" width="59.30" height="122.00" fill="#fff" stroke="none"/>
<path d="M372.8,9.5 H313.5 V131.5 H372.8" fill="none" stroke="#111" stroke-width="1.0"/>
<line x1="372.8" y1="9.5" x2="372.8" y2="131.5" stroke="#888" stroke-width="1.2"/>
<line x1="316.3" y1="13.90" x2="327.2" y2="13.90" stroke="#40eaa8" stroke-width="1.5"/>
<path d="M0.373,0 L0.285,0 L0.285,0.56 C0.25,0.525 0.17,0.49 0.109,0.465 L0.109,0.55 C0.2,0.59 0.28,0.66 0.315,0.716 L0.373,0.716 Z" transform="translate(331.90,16.70) scale(8.5,-8.5)" fill="#111"/>
<line x1="316.3" y1="22.55" x2="327.2" y2="22.55" stroke="#40eaa8" stroke-width="1.5" stroke-dasharray="3 2.5"/>
<path d="M0.373,0 L0.285,0 L0.285,0.56 C0.25,0.525 0.17,0.49 0.109,0.465 L0.109,0.55 C0.2,0.59 0.28,0.66 0.315,0.716 L0.373,0.716 Z" transform="translate(331.90,25.35) scale(8.5,-8.5)" fill="#111"/><text x="336.63" y="25.35" class="l">pop</text>
<line x1="316.3" y1="31.19" x2="327.2" y2="31.19" stroke="#f0844a" stroke-width="1.5"/>
<text x="331.9" y="33.99" class="l">2</text>
<line x1="316.3" y1="39.84" x2="327.2" y2="39.84" stroke="#f0844a" stroke-width="1.5" stroke-dasharray="3 2.5"/>
<text x="331.9" y="42.64" class="l">2pop</text>
<line x1="316.3" y1="48.48" x2="327.2" y2="48.48" stroke="#a03cf0" stroke-width="1.5"/>
<text x="331.9" y="51.28" class="l">3</text>
<line x1="316.3" y1="57.13" x2="327.2" y2="57.13" stroke="#a03cf0" stroke-width="1.5" stroke-dasharray="3 2.5"/>
<text x="331.9" y="59.93" class="l">3pop</text>
<line x1="316.3" y1="65.78" x2="327.2" y2="65.78" stroke="#48f03a" stroke-width="1.5"/>
<text x="331.9" y="68.58" class="l">4</text>
<line x1="316.3" y1="74.42" x2="327.2" y2="74.42" stroke="#48f03a" stroke-width="1.5" stroke-dasharray="3 2.5"/>
<text x="331.9" y="77.22" class="l">4pop</text>
<line x1="316.3" y1="83.07" x2="327.2" y2="83.07" stroke="#1438f0" stroke-width="1.5"/>
<text x="331.9" y="85.87" class="l">5</text>
<line x1="316.3" y1="91.71" x2="327.2" y2="91.71" stroke="#1438f0" stroke-width="1.5" stroke-dasharray="3 2.5"/>
<text x="331.9" y="94.51" class="l">5pop</text>
<line x1="316.3" y1="100.36" x2="327.2" y2="100.36" stroke="#f01818" stroke-width="1.5"/>
<text x="331.9" y="103.16" class="l">6</text>
<line x1="316.3" y1="109.01" x2="327.2" y2="109.01" stroke="#f01818" stroke-width="1.5" stroke-dasharray="3 2.5"/>
<text x="331.9" y="111.81" class="l">6pop</text>
<line x1="316.3" y1="117.65" x2="327.2" y2="117.65" stroke="#333" stroke-width="1.8"/>
<text x="331.9" y="120.45" class="l">tfidf dict</text>
<line x1="316.3" y1="126.30" x2="327.2" y2="126.30" stroke="#555" stroke-width="1.0" stroke-dasharray="1 1.3"/>
<text x="331.9" y="129.10" class="l">tfidf lastfm</text>
<path d="M43.4,243.0 V7.0" fill="none" stroke="#1a1a1a" stroke-width="1.7"/>
<path d="M42.55,7.0 H376.0" fill="none" stroke="#1a1a1a" stroke-width="2"/>
<path d="M44.4,242.0 H375.0 V8.0" fill="none" stroke="#505050" stroke-width="2"/>
<text x="40.85" y="254.40" class="t">0</text>
<text x="93.81" y="254.40" class="t">50</text>
<path d="M0.373,0 L0.285,0 L0.285,0.56 C0.25,0.525 0.17,0.49 0.109,0.465 L0.109,0.55 C0.2,0.59 0.28,0.66 0.315,0.716 L0.373,0.716 Z" transform="translate(147.01,254.40) scale(11.5,-11.5)" fill="#111"/><text x="153.40" y="254.40" class="t">00</text>
<path d="M0.373,0 L0.285,0 L0.285,0.56 C0.25,0.525 0.17,0.49 0.109,0.465 L0.109,0.55 C0.2,0.59 0.28,0.66 0.315,0.716 L0.373,0.716 Z" transform="translate(202.41,254.40) scale(11.5,-11.5)" fill="#111"/><text x="208.80" y="254.40" class="t">50</text>
<text x="257.71" y="254.40" class="t">200</text>
<text x="312.71" y="254.40" class="t">250</text>
<text x="367.71" y="254.40" class="t">300</text>
<text x="33.01" y="244.60" class="t">0</text>
<text x="17.02" y="215.22" class="t">0.05</text>
<text x="23.41" y="185.85" class="t">0.</text><path d="M0.373,0 L0.285,0 L0.285,0.56 C0.25,0.525 0.17,0.49 0.109,0.465 L0.109,0.55 C0.2,0.59 0.28,0.66 0.315,0.716 L0.373,0.716 Z" transform="translate(33.01,185.85) scale(11.5,-11.5)" fill="#111"/>
<text x="17.02" y="156.47" class="t">0.</text><path d="M0.373,0 L0.285,0 L0.285,0.56 C0.25,0.525 0.17,0.49 0.109,0.465 L0.109,0.55 C0.2,0.59 0.28,0.66 0.315,0.716 L0.373,0.716 Z" transform="translate(26.61,156.47) scale(11.5,-11.5)" fill="#111"/><text x="33.01" y="156.47" class="t">5</text>
<text x="23.41" y="127.10" class="t">0.2</text>
<text x="17.02" y="97.72" class="t">0.25</text>
<text x="23.41" y="68.35" class="t">0.3</text>
<text x="17.02" y="38.97" class="t">0.35</text>
<text x="23.41" y="9.60" class="t">0.4</text>
<text x="188.3" y="271.7" class="b">cutoff k</text>
<text transform="translate(11.2,151.6) rotate(-90)" class="b" style="font-size:13.2px">F measure</text>
</svg>
</body></html>
